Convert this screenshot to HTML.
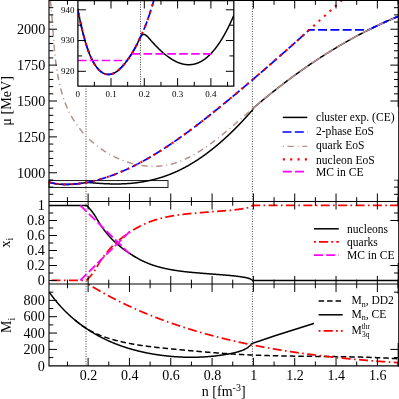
<!DOCTYPE html>
<html><head><meta charset="utf-8"><title>EoS</title>
<style>
html,body{margin:0;padding:0;background:#fff;}
body{width:399px;height:399px;overflow:hidden;font-family:"Liberation Serif",serif;}
svg{display:block;will-change:transform;}
svg text{font-family:"Liberation Serif",serif;fill:#000;}
</style></head><body>
<svg width="399" height="399" viewBox="0 0 399 399">
<defs>
<clipPath id="cT"><rect x="49.0" y="0" width="349.3" height="201.5"/></clipPath>
<clipPath id="cM"><rect x="49.0" y="201.5" width="349.3" height="82.44999999999999"/></clipPath>
<clipPath id="cB"><rect x="49.0" y="283.95" width="349.3" height="81.90000000000003"/></clipPath>
<clipPath id="cI"><rect x="77.9" y="0" width="155.9" height="86.1"/></clipPath>
</defs>
<rect width="399" height="399" fill="#fff"/>

<path d="M398.30,172.78h-8M398.30,136.89h-8M398.30,101.00h-8M398.30,65.11h-8M398.30,29.21h-8M398.30,194.32h-4.3M398.30,187.14h-4.3M398.30,179.96h-4.3M398.30,165.61h-4.3M398.30,158.43h-4.3M398.30,151.25h-4.3M398.30,144.07h-4.3M398.30,129.71h-4.3M398.30,122.53h-4.3M398.30,115.36h-4.3M398.30,108.18h-4.3M398.30,93.82h-4.3M398.30,86.64h-4.3M398.30,79.46h-4.3M398.30,72.28h-4.3M398.30,57.93h-4.3M398.30,50.75h-4.3M398.30,43.57h-4.3M398.30,36.39h-4.3M398.30,22.04h-4.3M398.30,14.86h-4.3M398.30,7.68h-4.3M398.30,0.50h-4.3M398.30,280.50h-8M398.30,265.50h-8M398.30,250.50h-8M398.30,235.50h-8M398.30,220.50h-8M398.30,205.50h-8M398.30,273.00h-4.3M398.30,258.00h-4.3M398.30,243.00h-4.3M398.30,228.00h-4.3M398.30,213.00h-4.3M398.30,349.40h-8M398.30,333.05h-8M398.30,316.70h-8M398.30,300.35h-8M398.30,357.57h-4.3M398.30,341.23h-4.3M398.30,324.88h-4.3M398.30,308.52h-4.3M398.30,292.18h-4.3" stroke="#000" stroke-width="1" fill="none"/>


<path d="M86.0,-1.5 V365.85 M252.4,-1.5 V365.85" stroke="#4a4a4a" stroke-width="1" stroke-dasharray="1 1.5" fill="none"/>

<rect x="49.0" y="180.6" width="119.0" height="6.8" fill="none" stroke="#000" stroke-width="0.9"/>

<g clip-path="url(#cT)" fill="none">
<path d="M49.07,182.17 L49.48,182.30 L49.89,182.43 L50.30,182.55 L50.70,182.67 L51.11,182.78 L51.52,182.89 L51.93,182.99 L52.34,183.09 L52.75,183.18 L53.15,183.27 L53.56,183.35 L53.97,183.43 L54.38,183.51 L54.79,183.58 L55.19,183.65 L55.60,183.71 L56.01,183.77 L56.42,183.83 L56.83,183.88 L57.23,183.93 L57.64,183.98 L58.05,184.02 L58.46,184.07 L58.87,184.11 L59.27,184.14 L59.68,184.18 L60.09,184.21 L60.50,184.24 L60.91,184.26 L61.31,184.29 L61.72,184.31 L62.13,184.33 L62.54,184.35 L62.95,184.37 L63.35,184.38 L63.76,184.39 L64.17,184.40 L64.58,184.41 L64.99,184.41 L65.40,184.42 L65.80,184.42 L66.21,184.42 L66.62,184.41 L67.03,184.41 L67.44,184.40 L67.84,184.40 L68.25,184.39 L68.66,184.38 L69.07,184.36 L69.48,184.35 L69.88,184.33 L70.29,184.31 L70.70,184.29 L71.11,184.27 L71.52,184.25 L71.92,184.22 L72.33,184.20 L72.74,184.17 L73.15,184.14 L73.56,184.11 L73.96,184.08 L74.37,184.05 L74.78,184.02 L75.19,183.98 L75.60,183.94 L76.00,183.91 L76.41,183.87 L76.82,183.83 L77.23,183.79 L77.64,183.75 L78.05,183.70 L78.45,183.66 L78.86,183.61 L79.27,183.57 L79.68,183.52 L80.09,183.47 L80.49,183.42 L80.90,183.37 L81.31,183.32 L81.72,183.27 L82.13,183.21 L82.53,183.16 L82.94,183.10 L83.35,183.04 L83.76,182.99 L84.17,182.92 L84.57,182.85 L84.98,182.77 L85.39,182.70 L85.80,182.65 L86.21,182.61 L86.61,182.58 L87.02,182.56 L87.43,182.55 L87.84,182.55 L88.25,182.55 L88.66,182.57 L89.06,182.58 L89.47,182.61 L89.88,182.63 L90.29,182.66 L90.70,182.70 L91.10,182.73 L91.51,182.77 L91.92,182.80 L92.33,182.84 L92.74,182.87 L93.14,182.91 L93.55,182.94 L93.96,182.97 L94.37,183.01 L94.78,183.04 L95.18,183.07 L95.59,183.10 L96.00,183.14 L96.41,183.17 L96.82,183.20 L97.22,183.23 L97.63,183.26 L98.04,183.29 L98.45,183.31 L98.86,183.34 L99.26,183.37 L99.67,183.40 L100.08,183.42 L100.49,183.45 L100.90,183.48 L101.31,183.50 L101.71,183.52 L102.12,183.55 L102.53,183.57 L102.94,183.59 L103.35,183.62 L103.75,183.64 L104.16,183.66 L104.57,183.68 L104.98,183.70 L105.39,183.72 L105.79,183.73 L106.20,183.75 L106.61,183.77 L107.02,183.79 L107.43,183.80 L107.83,183.82 L108.24,183.83 L108.65,183.84 L109.06,183.86 L109.47,183.87 L109.87,183.88 L110.28,183.89 L110.69,183.90 L111.10,183.91 L111.51,183.92 L111.91,183.93 L112.32,183.93 L112.73,183.94 L113.14,183.95 L113.55,183.95 L113.96,183.95 L114.36,183.96 L114.77,183.96 L115.18,183.96 L115.59,183.96 L116.00,183.96 L116.40,183.96 L116.81,183.96 L117.22,183.96 L117.63,183.95 L118.04,183.95 L118.44,183.94 L118.85,183.94 L119.26,183.93 L119.67,183.92 L120.08,183.91 L120.48,183.90 L120.89,183.89 L121.30,183.88 L121.71,183.87 L122.12,183.86 L122.52,183.84 L122.93,183.83 L123.34,183.81 L123.75,183.79 L124.16,183.77 L124.56,183.75 L124.97,183.73 L125.38,183.71 L125.79,183.69 L126.20,183.67 L126.61,183.64 L127.01,183.62 L127.42,183.59 L127.83,183.56 L128.24,183.53 L128.65,183.51 L129.05,183.47 L129.46,183.44 L129.87,183.41 L130.28,183.38 L130.69,183.34 L131.09,183.31 L131.50,183.27 L131.91,183.23 L132.32,183.19 L132.73,183.15 L133.13,183.11 L133.54,183.07 L133.95,183.03 L134.36,182.98 L134.77,182.94 L135.17,182.89 L135.58,182.84 L135.99,182.79 L136.40,182.74 L136.81,182.69 L137.21,182.64 L137.62,182.59 L138.03,182.53 L138.44,182.48 L138.85,182.42 L139.26,182.36 L139.66,182.30 L140.07,182.24 L140.48,182.18 L140.89,182.12 L141.30,182.05 L141.70,181.99 L142.11,181.92 L142.52,181.85 L142.93,181.79 L143.34,181.72 L143.74,181.64 L144.15,181.57 L144.56,181.50 L144.97,181.42 L145.38,181.35 L145.78,181.27 L146.19,181.19 L146.60,181.11 L147.01,181.03 L147.42,180.95 L147.82,180.87 L148.23,180.78 L148.64,180.70 L149.05,180.61 L149.46,180.52 L149.86,180.43 L150.27,180.34 L150.68,180.25 L151.09,180.15 L151.50,180.06 L151.91,179.96 L152.31,179.86 L152.72,179.76 L153.13,179.66 L153.54,179.56 L153.95,179.46 L154.35,179.36 L154.76,179.25 L155.17,179.14 L155.58,179.03 L155.99,178.92 L156.39,178.81 L156.80,178.70 L157.21,178.59 L157.62,178.47 L158.03,178.36 L158.43,178.24 L158.84,178.12 L159.25,178.00 L159.66,177.88 L160.07,177.75 L160.47,177.63 L160.88,177.50 L161.29,177.37 L161.70,177.24 L162.11,177.11 L162.51,176.98 L162.92,176.85 L163.33,176.71 L163.74,176.58 L164.15,176.44 L164.56,176.30 L164.96,176.16 L165.37,176.02 L165.78,175.87 L166.19,175.73 L166.60,175.58 L167.00,175.43 L167.41,175.28 L167.82,175.13 L168.23,174.98 L168.64,174.83 L169.04,174.67 L169.45,174.51 L169.86,174.36 L170.27,174.20 L170.68,174.03 L171.08,173.87 L171.49,173.71 L171.90,173.54 L172.31,173.37 L172.72,173.20 L173.12,173.03 L173.53,172.86 L173.94,172.68 L174.35,172.51 L174.76,172.33 L175.17,172.15 L175.57,171.97 L175.98,171.79 L176.39,171.61 L176.80,171.42 L177.21,171.24 L177.61,171.05 L178.02,170.86 L178.43,170.67 L178.84,170.47 L179.25,170.28 L179.65,170.08 L180.06,169.88 L180.47,169.68 L180.88,169.48 L181.29,169.28 L181.69,169.07 L182.10,168.87 L182.51,168.66 L182.92,168.45 L183.33,168.24 L183.73,168.03 L184.14,167.81 L184.55,167.60 L184.96,167.38 L185.37,167.16 L185.77,166.94 L186.18,166.71 L186.59,166.49 L187.00,166.26 L187.41,166.04 L187.82,165.81 L188.22,165.58 L188.63,165.34 L189.04,165.11 L189.45,164.88 L189.86,164.64 L190.26,164.40 L190.67,164.16 L191.08,163.92 L191.49,163.67 L191.90,163.43 L192.30,163.18 L192.71,162.93 L193.12,162.68 L193.53,162.43 L193.94,162.18 L194.34,161.92 L194.75,161.67 L195.16,161.41 L195.57,161.15 L195.98,160.89 L196.38,160.63 L196.79,160.36 L197.20,160.10 L197.61,159.83 L198.02,159.56 L198.42,159.29 L198.83,159.02 L199.24,158.74 L199.65,158.47 L200.06,158.19 L200.47,157.91 L200.87,157.63 L201.28,157.35 L201.69,157.07 L202.10,156.78 L202.51,156.50 L202.91,156.21 L203.32,155.92 L203.73,155.63 L204.14,155.33 L204.55,155.04 L204.95,154.75 L205.36,154.45 L205.77,154.15 L206.18,153.85 L206.59,153.55 L206.99,153.24 L207.40,152.94 L207.81,152.63 L208.22,152.32 L208.63,152.01 L209.03,151.70 L209.44,151.39 L209.85,151.07 L210.26,150.76 L210.67,150.44 L211.07,150.12 L211.48,149.80 L211.89,149.48 L212.30,149.16 L212.71,148.83 L213.12,148.50 L213.52,148.18 L213.93,147.85 L214.34,147.52 L214.75,147.18 L215.16,146.85 L215.56,146.51 L215.97,146.17 L216.38,145.84 L216.79,145.50 L217.20,145.15 L217.60,144.81 L218.01,144.47 L218.42,144.12 L218.83,143.77 L219.24,143.42 L219.64,143.07 L220.05,142.72 L220.46,142.36 L220.87,142.01 L221.28,141.65 L221.68,141.29 L222.09,140.93 L222.50,140.57 L222.91,140.21 L223.32,139.84 L223.72,139.48 L224.13,139.11 L224.54,138.74 L224.95,138.37 L225.36,138.00 L225.77,137.62 L226.17,137.25 L226.58,136.87 L226.99,136.49 L227.40,136.11 L227.81,135.73 L228.21,135.35 L228.62,134.97 L229.03,134.58 L229.44,134.20 L229.85,133.81 L230.25,133.42 L230.66,133.03 L231.07,132.63 L231.48,132.24 L231.89,131.84 L232.29,131.45 L232.70,131.05 L233.11,130.65 L233.52,130.24 L233.93,129.84 L234.33,129.44 L234.74,129.03 L235.15,128.62 L235.56,128.21 L235.97,127.80 L236.37,127.39 L236.78,126.98 L237.19,126.56 L237.60,126.15 L238.01,125.73 L238.42,125.31 L238.82,124.89 L239.23,124.47 L239.64,124.04 L240.05,123.62 L240.46,123.19 L240.86,122.77 L241.27,122.34 L241.68,121.90 L242.09,121.47 L242.50,121.04 L242.90,120.60 L243.31,120.17 L243.72,119.73 L244.13,119.29 L244.54,118.85 L244.94,118.41 L245.35,117.96 L245.76,117.52 L246.17,117.07 L246.58,116.62 L246.98,116.17 L247.39,115.72 L247.80,115.27 L248.21,114.82 L248.62,114.36 L249.02,113.91 L249.43,113.45 L249.84,112.99 L250.25,112.53 L250.66,112.07 L251.07,111.60 L251.47,111.14 L251.88,110.67 L252.29,110.20 L252.70,109.74 L253.05,108.33 L253.82,107.67 L254.60,107.01 L255.38,106.34 L256.16,105.68 L256.94,105.02 L257.72,104.37 L258.50,103.71 L259.28,103.05 L260.06,102.40 L260.84,101.74 L261.63,101.09 L262.41,100.44 L263.20,99.79 L263.99,99.14 L264.78,98.49 L265.56,97.84 L266.35,97.20 L267.14,96.55 L267.93,95.91 L268.73,95.27 L269.52,94.62 L270.31,93.98 L271.11,93.35 L271.90,92.71 L272.70,92.07 L273.50,91.44 L274.30,90.80 L275.10,90.17 L275.90,89.54 L276.70,88.91 L277.50,88.28 L278.30,87.65 L279.11,87.03 L279.91,86.40 L280.72,85.78 L281.52,85.16 L282.33,84.54 L283.14,83.92 L283.95,83.30 L284.76,82.68 L285.57,82.06 L286.38,81.45 L287.19,80.84 L288.01,80.23 L288.82,79.61 L289.64,79.01 L290.46,78.40 L291.27,77.79 L292.09,77.19 L292.91,76.58 L293.73,75.98 L294.56,75.38 L295.38,74.78 L296.20,74.18 L297.03,73.59 L297.85,72.99 L298.68,72.40 L299.51,71.81 L300.34,71.22 L301.17,70.63 L302.00,70.04 L302.83,69.45 L303.66,68.87 L304.49,68.28 L305.33,67.70 L306.16,67.12 L307.00,66.54 L307.84,65.96 L308.68,65.39 L309.52,64.81 L310.36,64.24 L311.20,63.67 L312.04,63.10 L312.89,62.53 L313.73,61.96 L314.58,61.40 L315.43,60.83 L316.27,60.27 L317.12,59.71 L317.97,59.15 L318.83,58.59 L319.68,58.04 L320.53,57.48 L321.39,56.93 L322.24,56.38 L323.10,55.83 L323.96,55.28 L324.82,54.73 L325.68,54.19 L326.54,53.64 L327.40,53.10 L328.26,52.56 L329.13,52.02 L329.99,51.49 L330.86,50.95 L331.73,50.42 L332.60,49.89 L333.47,49.36 L334.34,48.83 L335.21,48.30 L336.08,47.77 L336.96,47.25 L337.83,46.73 L338.71,46.21 L339.59,45.69 L340.47,45.17 L341.35,44.66 L342.23,44.15 L343.11,43.63 L344.00,43.12 L344.88,42.62 L345.77,42.11 L346.65,41.60 L347.54,41.10 L348.43,40.60 L349.32,40.10 L350.21,39.60 L351.11,39.11 L352.00,38.61 L352.90,38.12 L353.79,37.63 L354.69,37.14 L355.59,36.66 L356.49,36.17 L357.39,35.69 L358.30,35.21 L359.20,34.73 L360.10,34.25 L361.01,33.77 L361.92,33.30 L362.83,32.83 L363.74,32.36 L364.65,31.89 L365.56,31.42 L366.47,30.96 L367.39,30.50 L368.31,30.04 L369.22,29.58 L370.14,29.12 L371.06,28.67 L371.98,28.21 L372.91,27.76 L373.83,27.31 L374.75,26.86 L375.68,26.42 L376.61,25.98 L377.54,25.53 L378.47,25.09 L379.40,24.66 L380.33,24.22 L381.26,23.79 L382.20,23.36 L383.14,22.93 L384.07,22.50 L385.01,22.07 L385.95,21.65 L386.89,21.23 L387.84,20.81 L388.78,20.39 L389.73,19.98 L390.67,19.56 L391.62,19.15 L392.57,18.74 L393.52,18.33 L394.47,17.93 L395.43,17.53 L396.38,17.12 L397.34,16.73 L398.30,16.33" stroke="#000" stroke-width="1.5"/>
<path d="M49.07,182.17 L49.67,182.36 L50.26,182.54 L50.86,182.71 L51.46,182.87 L52.05,183.02 L52.65,183.16 L53.24,183.29 L53.84,183.41 L54.43,183.52 L55.03,183.62 L55.63,183.71 L56.22,183.80 L56.82,183.88 L57.41,183.95 L58.01,184.02 L58.61,184.08 L59.20,184.14 L59.80,184.19 L60.39,184.23 L60.99,184.27 L61.58,184.30 L62.18,184.33 L62.78,184.36 L63.37,184.38 L63.97,184.40 L64.56,184.41 L65.16,184.41 L65.75,184.42 L66.35,184.42 L66.95,184.41 L67.54,184.40 L68.14,184.39 L68.73,184.37 L69.33,184.35 L69.93,184.33 L70.52,184.30 L71.12,184.27 L71.71,184.24 L72.31,184.20 L72.90,184.16 L73.50,184.12 L74.10,184.07 L74.69,184.02 L75.29,183.97 L75.88,183.92 L76.48,183.86 L77.07,183.80 L77.67,183.74 L78.27,183.68 L78.86,183.61 L79.46,183.55 L80.05,183.48 L80.65,183.40 L81.25,183.33 L81.84,183.25 L82.44,183.17 L83.03,183.09 L83.63,183.00 L84.22,182.92 L84.82,182.83 L85.42,182.73 L86.01,182.64 L86.61,182.54 L87.20,182.44 L87.80,182.33 L88.39,182.22 L88.99,182.11 L89.59,181.99 L90.18,181.86 L90.78,181.74 L91.37,181.60 L91.97,181.47 L92.57,181.32 L93.16,181.18 L93.76,181.03 L94.35,180.88 L94.95,180.73 L95.54,180.57 L96.14,180.42 L96.74,180.26 L97.33,180.10 L97.93,179.93 L98.52,179.77 L99.12,179.60 L99.71,179.43 L100.31,179.26 L100.91,179.08 L101.50,178.91 L102.10,178.73 L102.69,178.55 L103.29,178.36 L103.88,178.18 L104.48,177.99 L105.08,177.80 L105.67,177.61 L106.27,177.41 L106.86,177.21 L107.46,177.01 L108.06,176.81 L108.65,176.61 L109.25,176.40 L109.84,176.19 L110.44,175.98 L111.03,175.77 L111.63,175.56 L112.23,175.34 L112.82,175.12 L113.42,174.90 L114.01,174.67 L114.61,174.45 L115.20,174.22 L115.80,173.99 L116.40,173.76 L116.99,173.52 L117.59,173.28 L118.18,173.04 L118.78,172.80 L119.38,172.56 L119.97,172.31 L120.57,172.06 L121.16,171.81 L121.76,171.56 L122.35,171.30 L122.95,171.05 L123.55,170.79 L124.14,170.53 L124.74,170.26 L125.33,170.00 L125.93,169.73 L126.52,169.46 L127.12,169.18 L127.72,168.91 L128.31,168.63 L128.91,168.35 L129.50,168.07 L130.10,167.79 L130.70,167.50 L131.29,167.22 L131.89,166.93 L132.48,166.64 L133.08,166.34 L133.67,166.05 L134.27,165.75 L134.87,165.45 L135.46,165.15 L136.06,164.85 L136.65,164.54 L137.25,164.23 L137.84,163.92 L138.44,163.61 L139.04,163.30 L139.63,162.98 L140.23,162.67 L140.82,162.35 L141.42,162.03 L142.02,161.70 L142.61,161.38 L143.21,161.05 L143.80,160.72 L144.40,160.39 L144.99,160.06 L145.59,159.73 L146.19,159.39 L146.78,159.06 L147.38,158.72 L147.97,158.37 L148.57,158.03 L149.16,157.69 L149.76,157.34 L150.36,156.99 L150.95,156.64 L151.55,156.29 L152.14,155.94 L152.74,155.58 L153.34,155.23 L153.93,154.87 L154.53,154.51 L155.12,154.14 L155.72,153.78 L156.31,153.42 L156.91,153.05 L157.51,152.68 L158.10,152.31 L158.70,151.94 L159.29,151.57 L159.89,151.19 L160.48,150.81 L161.08,150.44 L161.68,150.06 L162.27,149.68 L162.87,149.29 L163.46,148.91 L164.06,148.52 L164.66,148.14 L165.25,147.75 L165.85,147.36 L166.44,146.97 L167.04,146.57 L167.63,146.18 L168.23,145.78 L168.83,145.38 L169.42,144.98 L170.02,144.58 L170.61,144.18 L171.21,143.78 L171.80,143.37 L172.40,142.97 L173.00,142.56 L173.59,142.15 L174.19,141.74 L174.78,141.33 L175.38,140.92 L175.98,140.50 L176.57,140.09 L177.17,139.67 L177.76,139.25 L178.36,138.83 L178.95,138.41 L179.55,137.99 L180.15,137.57 L180.74,137.14 L181.34,136.72 L181.93,136.29 L182.53,135.86 L183.12,135.43 L183.72,135.00 L184.32,134.57 L184.91,134.14 L185.51,133.71 L186.10,133.27 L186.70,132.83 L187.30,132.40 L187.89,131.96 L188.49,131.52 L189.08,131.08 L189.68,130.64 L190.27,130.19 L190.87,129.75 L191.47,129.30 L192.06,128.86 L192.66,128.41 L193.25,127.96 L193.85,127.51 L194.44,127.06 L195.04,126.61 L195.64,126.16 L196.23,125.71 L196.83,125.25 L197.42,124.80 L198.02,124.34 L198.61,123.88 L199.21,123.42 L199.81,122.96 L200.40,122.50 L201.00,122.04 L201.59,121.58 L202.19,121.12 L202.79,120.66 L203.38,120.19 L203.98,119.73 L204.57,119.26 L205.17,118.79 L205.76,118.33 L206.36,117.86 L206.96,117.39 L207.55,116.92 L208.15,116.45 L208.74,115.97 L209.34,115.50 L209.93,115.03 L210.53,114.55 L211.13,114.08 L211.72,113.60 L212.32,113.13 L212.91,112.65 L213.51,112.17 L214.11,111.69 L214.70,111.21 L215.30,110.74 L215.89,110.25 L216.49,109.77 L217.08,109.29 L217.68,108.81 L218.28,108.33 L218.87,107.84 L219.47,107.36 L220.06,106.87 L220.66,106.39 L221.25,105.90 L221.85,105.42 L222.45,104.93 L223.04,104.44 L223.64,103.95 L224.23,103.46 L224.83,102.97 L225.43,102.49 L226.02,101.99 L226.62,101.50 L227.21,101.01 L227.81,100.52 L228.40,100.03 L229.00,99.54 L229.60,99.04 L230.19,98.55 L230.79,98.06 L231.38,97.56 L231.98,97.07 L232.57,96.57 L233.17,96.08 L233.77,95.58 L234.36,95.08 L234.96,94.59 L235.55,94.09 L236.15,93.59 L236.75,93.10 L237.34,92.60 L237.94,92.10 L238.53,91.60 L239.13,91.10 L239.72,90.60 L240.32,90.10 L240.92,89.60 L241.51,89.10 L242.11,88.60 L242.70,88.09 L243.30,87.59 L243.89,87.09 L244.49,86.59 L245.09,86.08 L245.68,85.58 L246.28,85.07 L246.87,84.57 L247.47,84.06 L248.07,83.56 L248.66,83.05 L249.26,82.55 L249.85,82.04 L250.45,81.53 L251.04,81.03 L251.64,80.52 L252.24,80.01 L252.83,79.50 L253.43,78.99 L254.02,78.49 L254.62,77.98 L255.21,77.47 L255.81,76.96 L256.41,76.45 L257.00,75.93 L257.60,75.42 L258.19,74.91 L258.79,74.40 L259.39,73.89 L259.98,73.37 L260.58,72.86 L261.17,72.35 L261.77,71.83 L262.36,71.32 L262.96,70.81 L263.56,70.29 L264.15,69.78 L264.75,69.26 L265.34,68.74 L265.94,68.23 L266.53,67.71 L267.13,67.20 L267.73,66.68 L268.32,66.16 L268.92,65.64 L269.51,65.12 L270.11,64.61 L270.71,64.09 L271.30,63.57 L271.90,63.05 L272.49,62.53 L273.09,62.01 L273.68,61.49 L274.28,60.97 L274.88,60.45 L275.47,59.93 L276.07,59.40 L276.66,58.88 L277.26,58.36 L277.85,57.84 L278.45,57.31 L279.05,56.79 L279.64,56.27 L280.24,55.74 L280.83,55.22 L281.43,54.70 L282.03,54.17 L282.62,53.65 L283.22,53.12 L283.81,52.59 L284.41,52.07 L285.00,51.54 L285.60,51.02 L286.20,50.49 L286.79,49.96 L287.39,49.43 L287.98,48.91 L288.58,48.38 L289.17,47.85 L289.77,47.32 L290.37,46.79 L290.96,46.26 L291.56,45.73 L292.15,45.20 L292.75,44.67 L293.35,44.14 L293.94,43.61 L294.54,43.08 L295.13,42.55 L295.73,42.02 L296.32,41.49 L296.92,40.96 L297.52,40.43 L298.11,39.89 L298.71,39.36 L299.30,38.83 L299.90,38.29 L300.49,37.76 L301.09,37.23 L301.69,36.69 L302.28,36.16 L302.88,35.62 L303.47,35.09 L304.07,34.55 L304.66,34.02 L305.26,33.48 L305.86,32.95 L306.45,32.41 L307.05,31.88 L307.64,31.34 L308.24,30.80 L308.4,29.9" stroke="#0000ff" stroke-width="1.7" stroke-dasharray="9 3.3"/>
<path d="M308.10,29.90 L368.00,29.90 L368.31,30.04 L369.22,29.58 L370.14,29.12 L371.06,28.67 L371.98,28.21 L372.91,27.76 L373.83,27.31 L374.75,26.86 L375.68,26.42 L376.61,25.98 L377.54,25.53 L378.47,25.09 L379.40,24.66 L380.33,24.22 L381.26,23.79 L382.20,23.36 L383.14,22.93 L384.07,22.50 L385.01,22.07 L385.95,21.65 L386.89,21.23 L387.84,20.81 L388.78,20.39 L389.73,19.98 L390.67,19.56 L391.62,19.15 L392.57,18.74 L393.52,18.33 L394.47,17.93 L395.43,17.53 L396.38,17.12 L397.34,16.73 L398.30,16.33" stroke="#0000ff" stroke-width="1.7" stroke-dasharray="9 3.3" stroke-dashoffset="2.35"/>
<path d="M50.36,0.32 L50.47,1.25 L50.58,2.19 L50.69,3.13 L50.79,4.08 L50.89,5.03 L50.99,5.99 L51.09,6.94 L51.18,7.91 L51.27,8.87 L51.37,9.84 L51.45,10.81 L51.54,11.79 L51.62,12.77 L51.71,13.75 L51.79,14.73 L51.87,15.72 L51.95,16.71 L52.02,17.71 L52.10,18.70 L52.18,19.70 L52.25,20.70 L52.32,21.71 L52.40,22.72 L52.47,23.72 L52.54,24.74 L52.61,25.75 L52.69,26.77 L52.76,27.78 L52.83,28.80 L52.90,29.83 L52.97,30.85 L53.04,31.87 L53.12,32.90 L53.19,33.93 L53.26,34.96 L53.34,35.99 L53.41,37.02 L53.49,38.06 L53.56,39.09 L53.64,40.13 L53.72,41.17 L53.80,42.21 L53.89,43.25 L53.97,44.29 L54.06,45.33 L54.14,46.37 L54.23,47.41 L54.32,48.45 L54.42,49.49 L54.51,50.54 L54.61,51.58 L54.71,52.62 L54.82,53.67 L54.92,54.71 L55.03,55.75 L55.14,56.80 L55.26,57.84 L55.38,58.88 L55.50,59.93 L55.62,60.97 L55.75,62.01 L55.88,63.05 L56.02,64.09 L56.16,65.13 L56.30,66.17 L56.45,67.20 L56.60,68.24 L56.75,69.27 L56.91,70.31 L57.08,71.34 L57.25,72.37 L57.42,73.40 L57.60,74.43 L57.78,75.46 L57.97,76.48 L58.16,77.51 L58.36,78.53 L58.56,79.55 L58.77,80.56 L58.99,81.58 L59.21,82.59 L59.43,83.60 L59.66,84.61 L59.90,85.62 L60.14,86.62 L60.39,87.62 L60.65,88.62 L60.91,89.62 L61.18,90.61 L61.46,91.60 L61.74,92.59 L62.03,93.57 L62.32,94.55 L62.63,95.53 L62.94,96.51 L63.25,97.48 L63.58,98.45 L63.91,99.41 L64.25,100.37 L64.60,101.33 L64.95,102.28 L65.32,103.23 L65.69,104.18 L66.07,105.12 L66.45,106.06 L66.85,106.99 L67.25,107.92 L67.67,108.85 L68.09,109.77 L68.52,110.68 L68.96,111.60 L69.41,112.50 L69.86,113.41 L70.33,114.30 L70.81,115.20 L71.29,116.08 L71.79,116.97 L72.29,117.85 L72.80,118.72 L73.33,119.59 L73.86,120.45 L74.41,121.31 L74.96,122.16 L75.52,123.00 L76.10,123.84 L76.68,124.68 L77.27,125.51 L77.87,126.33 L78.49,127.14 L79.11,127.96 L79.74,128.76 L80.37,129.56 L81.02,130.35 L81.68,131.14 L82.34,131.92 L83.01,132.69 L83.69,133.45 L84.38,134.21 L85.08,134.97 L85.78,135.71 L86.50,136.45 L87.22,137.18 L87.95,137.91 L88.68,138.63 L89.43,139.34 L90.18,140.04 L90.94,140.74 L91.70,141.42 L92.47,142.10 L93.25,142.78 L94.04,143.44 L94.83,144.10 L95.63,144.75 L96.44,145.39 L97.25,146.03 L98.07,146.65 L98.89,147.27 L99.72,147.88 L100.56,148.48 L101.40,149.07 L102.25,149.66 L103.10,150.23 L103.96,150.80 L104.83,151.36 L105.70,151.91 L106.57,152.45 L107.45,152.98 L108.34,153.50 L109.23,154.01 L110.12,154.52 L111.02,155.01 L111.92,155.50 L112.83,155.97 L113.74,156.44 L114.66,156.89 L115.58,157.34 L116.50,157.78 L117.43,158.21 L118.36,158.62 L119.29,159.03 L120.23,159.43 L121.17,159.81 L122.12,160.19 L123.07,160.56 L124.02,160.91 L124.97,161.26 L125.93,161.59 L126.89,161.92 L127.85,162.23 L128.82,162.53 L129.78,162.83 L130.75,163.11 L131.72,163.38 L132.70,163.64 L133.67,163.88 L134.65,164.12 L135.63,164.34 L136.61,164.56 L137.59,164.76 L138.57,164.95 L139.56,165.13 L140.55,165.29 L141.53,165.45 L142.52,165.59 L143.51,165.72 L144.50,165.84 L145.49,165.95 L146.48,166.04 L147.47,166.13 L148.46,166.20 L149.45,166.25 L150.44,166.30 L151.43,166.33 L152.42,166.35 L153.41,166.35 L154.40,166.35 L155.39,166.33 L156.38,166.30 L157.37,166.25 L158.36,166.19 L159.34,166.12 L160.33,166.04 L161.31,165.94 L162.29,165.82 L163.28,165.70 L164.26,165.56 L165.23,165.41 L166.21,165.24 L167.18,165.06 L168.16,164.86 L169.13,164.65 L170.10,164.43 L171.06,164.19 L172.03,163.94 L172.99,163.68 L173.95,163.40 L174.90,163.11 L175.86,162.80 L176.81,162.49 L177.76,162.16 L178.71,161.82 L179.65,161.46 L180.60,161.10 L181.54,160.72 L182.47,160.33 L183.41,159.93 L184.34,159.53 L185.27,159.11 L186.20,158.68 L187.12,158.24 L188.05,157.79 L188.97,157.33 L189.88,156.86 L190.80,156.38 L191.71,155.89 L192.62,155.40 L193.53,154.89 L194.43,154.38 L195.33,153.86 L196.23,153.33 L197.13,152.80 L198.02,152.25 L198.91,151.70 L199.80,151.15 L200.68,150.59 L201.56,150.02 L202.44,149.44 L203.32,148.86 L204.19,148.27 L205.06,147.68 L205.93,147.09 L206.79,146.48 L207.65,145.88 L208.51,145.27 L209.36,144.65 L210.21,144.03 L211.06,143.41 L211.91,142.79 L212.75,142.16 L213.59,141.53 L214.43,140.89 L215.26,140.25 L216.09,139.61 L216.92,138.97 L217.74,138.33 L218.56,137.68 L219.38,137.04 L220.19,136.39 L221.01,135.73 L221.82,135.08 L222.62,134.43 L223.43,133.77 L224.23,133.11 L225.03,132.45 L225.83,131.79 L226.63,131.13 L227.42,130.47 L228.21,129.80 L229.00,129.14 L229.79,128.47 L230.58,127.80 L231.36,127.13 L232.15,126.46 L232.93,125.79 L233.71,125.12 L234.49,124.45 L235.27,123.78 L236.05,123.11 L236.82,122.44 L237.60,121.76 L238.37,121.09 L239.15,120.41 L239.92,119.74 L240.69,119.07 L241.46,118.39 L242.24,117.72 L243.01,117.05 L243.78,116.37 L244.55,115.70 L245.32,115.03 L246.09,114.35 L246.86,113.68 L247.64,113.01 L248.41,112.34 L249.18,111.67 L249.95,111.00 L250.72,110.33 L251.50,109.67 L252.27,109.00 L253.05,108.33" stroke="#bc8f8f" stroke-width="1.5" stroke-dasharray="6.3 3.8 1 3.7"/>
<path d="M253.05,108.33 L253.82,107.67 L254.60,107.01 L255.38,106.34 L256.16,105.68 L256.94,105.02 L257.72,104.37 L258.50,103.71 L259.28,103.05 L260.06,102.40 L260.84,101.74 L261.63,101.09 L262.41,100.44 L263.20,99.79 L263.99,99.14 L264.78,98.49 L265.56,97.84 L266.35,97.20 L267.14,96.55 L267.93,95.91 L268.73,95.27 L269.52,94.62 L270.31,93.98 L271.11,93.35 L271.90,92.71 L272.70,92.07 L273.50,91.44 L274.30,90.80 L275.10,90.17 L275.90,89.54 L276.70,88.91 L277.50,88.28 L278.30,87.65 L279.11,87.03 L279.91,86.40 L280.72,85.78 L281.52,85.16 L282.33,84.54 L283.14,83.92 L283.95,83.30 L284.76,82.68 L285.57,82.06 L286.38,81.45 L287.19,80.84 L288.01,80.23 L288.82,79.61 L289.64,79.01 L290.46,78.40 L291.27,77.79 L292.09,77.19 L292.91,76.58 L293.73,75.98 L294.56,75.38 L295.38,74.78 L296.20,74.18 L297.03,73.59 L297.85,72.99 L298.68,72.40 L299.51,71.81 L300.34,71.22 L301.17,70.63 L302.00,70.04 L302.83,69.45 L303.66,68.87 L304.49,68.28 L305.33,67.70 L306.16,67.12 L307.00,66.54 L307.84,65.96 L308.68,65.39 L309.52,64.81 L310.36,64.24 L311.20,63.67 L312.04,63.10 L312.89,62.53 L313.73,61.96 L314.58,61.40 L315.43,60.83 L316.27,60.27 L317.12,59.71 L317.97,59.15 L318.83,58.59 L319.68,58.04 L320.53,57.48 L321.39,56.93 L322.24,56.38 L323.10,55.83 L323.96,55.28 L324.82,54.73 L325.68,54.19 L326.54,53.64 L327.40,53.10 L328.26,52.56 L329.13,52.02 L329.99,51.49 L330.86,50.95 L331.73,50.42 L332.60,49.89 L333.47,49.36 L334.34,48.83 L335.21,48.30 L336.08,47.77 L336.96,47.25 L337.83,46.73 L338.71,46.21 L339.59,45.69 L340.47,45.17 L341.35,44.66 L342.23,44.15 L343.11,43.63 L344.00,43.12 L344.88,42.62 L345.77,42.11 L346.65,41.60 L347.54,41.10 L348.43,40.60 L349.32,40.10 L350.21,39.60 L351.11,39.11 L352.00,38.61 L352.90,38.12 L353.79,37.63 L354.69,37.14 L355.59,36.66 L356.49,36.17 L357.39,35.69 L358.30,35.21 L359.20,34.73 L360.10,34.25 L361.01,33.77 L361.92,33.30 L362.83,32.83 L363.74,32.36 L364.65,31.89 L365.56,31.42 L366.47,30.96 L367.39,30.50 L368.31,30.04 L369.22,29.58 L370.14,29.12 L371.06,28.67 L371.98,28.21 L372.91,27.76 L373.83,27.31 L374.75,26.86 L375.68,26.42 L376.61,25.98 L377.54,25.53 L378.47,25.09 L379.40,24.66 L380.33,24.22 L381.26,23.79 L382.20,23.36 L383.14,22.93 L384.07,22.50 L385.01,22.07 L385.95,21.65 L386.89,21.23 L387.84,20.81 L388.78,20.39 L389.73,19.98 L390.67,19.56 L391.62,19.15 L392.57,18.74 L393.52,18.33 L394.47,17.93 L395.43,17.53 L396.38,17.12 L397.34,16.73 L398.30,16.33" stroke="#bc8f8f" stroke-width="1.45" stroke-dasharray="10.3 4.5"/>
<path d="M372.91,27.76 L373.83,27.31 L374.75,26.86 L375.68,26.42 L376.61,25.98 L377.54,25.53 L378.47,25.09 L379.40,24.66 L380.33,24.22 L381.26,23.79 L382.20,23.36 L383.14,22.93 L384.07,22.50 L385.01,22.07 L385.95,21.65 L386.89,21.23 L387.84,20.81 L388.78,20.39 L389.73,19.98 L390.67,19.56 L391.62,19.15 L392.57,18.74 L393.52,18.33 L394.47,17.93 L395.43,17.53 L396.38,17.12 L397.34,16.73 L398.30,16.33" stroke="#0000ff" stroke-width="1.7" stroke-dasharray="5 6.5"/>
<path d="M49.07,182.17 L49.67,182.36 L50.26,182.54 L50.86,182.71 L51.46,182.87 L52.05,183.02 L52.65,183.16 L53.24,183.29 L53.84,183.41 L54.43,183.52 L55.03,183.62 L55.63,183.71 L56.22,183.80 L56.82,183.88 L57.41,183.95 L58.01,184.02 L58.61,184.08 L59.20,184.14 L59.80,184.19 L60.39,184.23 L60.99,184.27 L61.58,184.30 L62.18,184.33 L62.78,184.36 L63.37,184.38 L63.97,184.40 L64.56,184.41 L65.16,184.41 L65.75,184.42 L66.35,184.42 L66.95,184.41 L67.54,184.40 L68.14,184.39 L68.73,184.37 L69.33,184.35 L69.93,184.33 L70.52,184.30 L71.12,184.27 L71.71,184.24 L72.31,184.20 L72.90,184.16 L73.50,184.12 L74.10,184.07 L74.69,184.02 L75.29,183.97 L75.88,183.92 L76.48,183.86 L77.07,183.80 L77.67,183.74 L78.27,183.68 L78.86,183.61 L79.46,183.55 L80.05,183.48 L80.65,183.40 L81.25,183.33 L81.84,183.25 L82.44,183.17 L83.03,183.09 L83.63,183.00 L84.22,182.92 L84.82,182.83 L85.42,182.73 L86.01,182.64 L86.61,182.54 L87.20,182.44 L87.80,182.33 L88.39,182.22 L88.99,182.11 L89.59,181.99 L90.18,181.86 L90.78,181.74 L91.37,181.60 L91.97,181.47 L92.57,181.32 L93.16,181.18 L93.76,181.03 L94.35,180.88 L94.95,180.73 L95.54,180.57 L96.14,180.42 L96.74,180.26 L97.33,180.10 L97.93,179.93 L98.52,179.77 L99.12,179.60 L99.71,179.43 L100.31,179.26 L100.91,179.08 L101.50,178.91 L102.10,178.73 L102.69,178.55 L103.29,178.36 L103.88,178.18 L104.48,177.99 L105.08,177.80 L105.67,177.61 L106.27,177.41 L106.86,177.21 L107.46,177.01 L108.06,176.81 L108.65,176.61 L109.25,176.40 L109.84,176.19 L110.44,175.98 L111.03,175.77 L111.63,175.56 L112.23,175.34 L112.82,175.12 L113.42,174.90 L114.01,174.67 L114.61,174.45 L115.20,174.22 L115.80,173.99 L116.40,173.76 L116.99,173.52 L117.59,173.28 L118.18,173.04 L118.78,172.80 L119.38,172.56 L119.97,172.31 L120.57,172.06 L121.16,171.81 L121.76,171.56 L122.35,171.30 L122.95,171.05 L123.55,170.79 L124.14,170.53 L124.74,170.26 L125.33,170.00 L125.93,169.73 L126.52,169.46 L127.12,169.18 L127.72,168.91 L128.31,168.63 L128.91,168.35 L129.50,168.07 L130.10,167.79 L130.70,167.50 L131.29,167.22 L131.89,166.93 L132.48,166.64 L133.08,166.34 L133.67,166.05 L134.27,165.75 L134.87,165.45 L135.46,165.15 L136.06,164.85 L136.65,164.54 L137.25,164.23 L137.84,163.92 L138.44,163.61 L139.04,163.30 L139.63,162.98 L140.23,162.67 L140.82,162.35 L141.42,162.03 L142.02,161.70 L142.61,161.38 L143.21,161.05 L143.80,160.72 L144.40,160.39 L144.99,160.06 L145.59,159.73 L146.19,159.39 L146.78,159.06 L147.38,158.72 L147.97,158.37 L148.57,158.03 L149.16,157.69 L149.76,157.34 L150.36,156.99 L150.95,156.64 L151.55,156.29 L152.14,155.94 L152.74,155.58 L153.34,155.23 L153.93,154.87 L154.53,154.51 L155.12,154.14 L155.72,153.78 L156.31,153.42 L156.91,153.05 L157.51,152.68 L158.10,152.31 L158.70,151.94 L159.29,151.57 L159.89,151.19 L160.48,150.81 L161.08,150.44 L161.68,150.06 L162.27,149.68 L162.87,149.29 L163.46,148.91 L164.06,148.52 L164.66,148.14 L165.25,147.75 L165.85,147.36 L166.44,146.97 L167.04,146.57 L167.63,146.18 L168.23,145.78 L168.83,145.38 L169.42,144.98 L170.02,144.58 L170.61,144.18 L171.21,143.78 L171.80,143.37 L172.40,142.97 L173.00,142.56 L173.59,142.15 L174.19,141.74 L174.78,141.33 L175.38,140.92 L175.98,140.50 L176.57,140.09 L177.17,139.67 L177.76,139.25 L178.36,138.83 L178.95,138.41 L179.55,137.99 L180.15,137.57 L180.74,137.14 L181.34,136.72 L181.93,136.29 L182.53,135.86 L183.12,135.43 L183.72,135.00 L184.32,134.57 L184.91,134.14 L185.51,133.71 L186.10,133.27 L186.70,132.83 L187.30,132.40 L187.89,131.96 L188.49,131.52 L189.08,131.08 L189.68,130.64 L190.27,130.19 L190.87,129.75 L191.47,129.30 L192.06,128.86 L192.66,128.41 L193.25,127.96 L193.85,127.51 L194.44,127.06 L195.04,126.61 L195.64,126.16 L196.23,125.71 L196.83,125.25 L197.42,124.80 L198.02,124.34 L198.61,123.88 L199.21,123.42 L199.81,122.96 L200.40,122.50 L201.00,122.04 L201.59,121.58 L202.19,121.12 L202.79,120.66 L203.38,120.19 L203.98,119.73 L204.57,119.26 L205.17,118.79 L205.76,118.33 L206.36,117.86 L206.96,117.39 L207.55,116.92 L208.15,116.45 L208.74,115.97 L209.34,115.50 L209.93,115.03 L210.53,114.55 L211.13,114.08 L211.72,113.60 L212.32,113.13 L212.91,112.65 L213.51,112.17 L214.11,111.69 L214.70,111.21 L215.30,110.74 L215.89,110.25 L216.49,109.77 L217.08,109.29 L217.68,108.81 L218.28,108.33 L218.87,107.84 L219.47,107.36 L220.06,106.87 L220.66,106.39 L221.25,105.90 L221.85,105.42 L222.45,104.93 L223.04,104.44 L223.64,103.95 L224.23,103.46 L224.83,102.97 L225.43,102.49 L226.02,101.99 L226.62,101.50 L227.21,101.01 L227.81,100.52 L228.40,100.03 L229.00,99.54 L229.60,99.04 L230.19,98.55 L230.79,98.06 L231.38,97.56 L231.98,97.07 L232.57,96.57 L233.17,96.08 L233.77,95.58 L234.36,95.08 L234.96,94.59 L235.55,94.09 L236.15,93.59 L236.75,93.10 L237.34,92.60 L237.94,92.10 L238.53,91.60 L239.13,91.10 L239.72,90.60 L240.32,90.10 L240.92,89.60 L241.51,89.10 L242.11,88.60 L242.70,88.09 L243.30,87.59 L243.89,87.09 L244.49,86.59 L245.09,86.08 L245.68,85.58 L246.28,85.07 L246.87,84.57 L247.47,84.06 L248.07,83.56 L248.66,83.05 L249.26,82.55 L249.85,82.04 L250.45,81.53 L251.04,81.03 L251.64,80.52 L252.24,80.01 L252.83,79.50 L253.43,78.99 L254.02,78.49 L254.62,77.98 L255.21,77.47 L255.81,76.96 L256.41,76.45 L257.00,75.93 L257.60,75.42 L258.19,74.91 L258.79,74.40 L259.39,73.89 L259.98,73.37 L260.58,72.86 L261.17,72.35 L261.77,71.83 L262.36,71.32 L262.96,70.81 L263.56,70.29 L264.15,69.78 L264.75,69.26 L265.34,68.74 L265.94,68.23 L266.53,67.71 L267.13,67.20 L267.73,66.68 L268.32,66.16 L268.92,65.64 L269.51,65.12 L270.11,64.61 L270.71,64.09 L271.30,63.57 L271.90,63.05 L272.49,62.53 L273.09,62.01 L273.68,61.49 L274.28,60.97 L274.88,60.45 L275.47,59.93 L276.07,59.40 L276.66,58.88 L277.26,58.36 L277.85,57.84 L278.45,57.31 L279.05,56.79 L279.64,56.27 L280.24,55.74 L280.83,55.22 L281.43,54.70 L282.03,54.17 L282.62,53.65 L283.22,53.12 L283.81,52.59 L284.41,52.07 L285.00,51.54 L285.60,51.02 L286.20,50.49 L286.79,49.96 L287.39,49.43 L287.98,48.91 L288.58,48.38 L289.17,47.85 L289.77,47.32 L290.37,46.79 L290.96,46.26 L291.56,45.73 L292.15,45.20 L292.75,44.67 L293.35,44.14 L293.94,43.61 L294.54,43.08 L295.13,42.55 L295.73,42.02 L296.32,41.49 L296.92,40.96 L297.52,40.43 L298.11,39.89 L298.71,39.36 L299.30,38.83 L299.90,38.29 L300.49,37.76 L301.09,37.23 L301.69,36.69 L302.28,36.16 L302.88,35.62 L303.47,35.09 L304.07,34.55 L304.66,34.02 L305.26,33.48 L305.86,32.95 L306.45,32.41 L307.05,31.88 L307.64,31.34 L308.24,30.80 L308.84,30.27 L309.43,29.73 L310.03,29.19 L310.62,28.65 L311.22,28.12 L311.81,27.58 L312.41,27.04 L313.01,26.50 L313.60,25.96 L314.20,25.42 L314.79,24.88 L315.39,24.34 L315.98,23.80 L316.58,23.26 L317.18,22.72 L317.77,22.18 L318.37,21.64 L318.96,21.10 L319.56,20.56 L320.16,20.02 L320.75,19.48 L321.35,18.94 L321.94,18.39 L322.54,17.85 L323.13,17.31 L323.73,16.77 L324.33,16.22 L324.92,15.68 L325.52,15.14 L326.11,14.59 L326.71,14.05 L327.30,13.51 L327.90,12.96 L328.50,12.42 L329.09,11.87 L329.69,11.33 L330.28,10.79 L330.88,10.24 L331.48,9.70 L332.07,9.15 L332.67,8.60 L333.26,8.06 L333.86,7.51 L334.45,6.97 L335.05,6.42 L335.65,5.87 L336.24,5.33 L336.84,4.78 L337.43,4.23 L338.03,3.69 L338.62,3.14 L339.22,2.59 L339.82,2.04 L340.41,1.50 L341.01,0.95 L341.60,0.40 L342.20,-0.15 L342.80,-0.70 L343.39,-1.25 L343.99,-1.79 L344.58,-2.34 L345.18,-2.89 L345.77,-3.44 L346.37,-3.99" stroke="#ff0000" stroke-width="2.1" stroke-dasharray="2.1 5.25"/>
</g>

<g clip-path="url(#cM)" fill="none">
<path d="M49.00,205.40 L86.60,205.40 L86.60,205.40 L87.02,205.82 L87.43,206.24 L87.85,206.68 L88.27,207.13 L88.68,207.58 L89.10,208.05 L89.51,208.53 L89.93,209.01 L90.35,209.51 L90.76,210.01 L91.18,210.52 L91.60,211.04 L92.01,211.57 L92.43,212.11 L92.84,212.66 L93.26,213.21 L93.68,213.78 L94.09,214.37 L94.51,214.99 L94.93,215.63 L95.34,216.29 L95.76,216.97 L96.17,217.66 L96.59,218.36 L97.01,219.07 L97.42,219.78 L97.84,220.50 L98.26,221.21 L98.67,221.92 L99.09,222.63 L99.51,223.32 L99.92,224.01 L100.34,224.67 L100.75,225.32 L101.17,225.95 L101.59,226.56 L102.00,227.14 L102.42,227.71 L102.84,228.27 L103.25,228.83 L103.67,229.39 L104.08,229.93 L104.50,230.47 L104.92,231.01 L105.33,231.54 L105.75,232.06 L106.17,232.58 L106.58,233.09 L107.00,233.60 L107.41,234.10 L107.83,234.60 L108.25,235.08 L108.66,235.57 L109.08,236.04 L109.50,236.51 L109.91,236.97 L110.33,237.43 L110.74,237.88 L111.16,238.32 L111.58,238.76 L111.99,239.19 L112.41,239.61 L112.83,240.03 L113.24,240.44 L113.66,240.84 L114.08,241.24 L114.49,241.63 L114.91,242.02 L115.32,242.40 L115.74,242.78 L116.16,243.15 L116.57,243.52 L116.99,243.89 L117.41,244.25 L117.82,244.60 L118.24,244.95 L118.65,245.30 L119.07,245.65 L119.49,245.99 L119.90,246.33 L120.32,246.66 L120.74,246.99 L121.15,247.32 L121.57,247.65 L121.98,247.97 L122.40,248.29 L122.82,248.61 L123.23,248.93 L123.65,249.24 L124.07,249.55 L124.48,249.86 L124.90,250.16 L125.32,250.47 L125.73,250.77 L126.15,251.06 L126.56,251.36 L126.98,251.65 L127.40,251.94 L127.81,252.23 L128.23,252.51 L128.65,252.79 L129.06,253.07 L129.48,253.35 L129.89,253.62 L130.31,253.90 L130.73,254.17 L131.14,254.44 L131.56,254.70 L131.98,254.97 L132.39,255.23 L132.81,255.49 L133.22,255.75 L133.64,256.00 L134.06,256.26 L134.47,256.51 L134.89,256.76 L135.31,257.00 L135.72,257.25 L136.14,257.49 L136.55,257.72 L136.97,257.96 L137.39,258.19 L137.80,258.42 L138.22,258.65 L138.64,258.88 L139.05,259.10 L139.47,259.32 L139.89,259.54 L140.30,259.76 L140.72,259.97 L141.13,260.19 L141.55,260.40 L141.97,260.61 L142.38,260.81 L142.80,261.02 L143.22,261.22 L143.63,261.41 L144.05,261.60 L144.46,261.78 L144.88,261.97 L145.30,262.15 L145.71,262.32 L146.13,262.50 L146.55,262.68 L146.96,262.85 L147.38,263.02 L147.79,263.20 L148.21,263.37 L148.63,263.53 L149.04,263.70 L149.46,263.86 L149.88,264.02 L150.29,264.18 L150.71,264.34 L151.13,264.49 L151.54,264.65 L151.96,264.80 L152.37,264.94 L152.79,265.09 L153.21,265.23 L153.62,265.37 L154.04,265.50 L154.46,265.63 L154.87,265.76 L155.29,265.89 L155.70,266.01 L156.12,266.13 L156.54,266.26 L156.95,266.38 L157.37,266.50 L157.79,266.61 L158.20,266.73 L158.62,266.85 L159.03,266.96 L159.45,267.07 L159.87,267.19 L160.28,267.30 L160.70,267.41 L161.12,267.51 L161.53,267.62 L161.95,267.72 L162.36,267.83 L162.78,267.93 L163.20,268.03 L163.61,268.13 L164.03,268.23 L164.45,268.33 L164.86,268.42 L165.28,268.52 L165.70,268.61 L166.11,268.70 L166.53,268.79 L166.94,268.88 L167.36,268.97 L167.78,269.05 L168.19,269.13 L168.61,269.22 L169.03,269.30 L169.44,269.38 L169.86,269.46 L170.27,269.53 L170.69,269.61 L171.11,269.68 L171.52,269.76 L171.94,269.83 L172.36,269.90 L172.77,269.97 L173.19,270.04 L173.60,270.11 L174.02,270.18 L174.44,270.25 L174.85,270.31 L175.27,270.38 L175.69,270.44 L176.10,270.51 L176.52,270.57 L176.94,270.63 L177.35,270.69 L177.77,270.76 L178.18,270.82 L178.60,270.87 L179.02,270.93 L179.43,270.99 L179.85,271.05 L180.27,271.10 L180.68,271.16 L181.10,271.21 L181.51,271.27 L181.93,271.32 L182.35,271.37 L182.76,271.42 L183.18,271.47 L183.60,271.52 L184.01,271.57 L184.43,271.62 L184.84,271.67 L185.26,271.72 L185.68,271.76 L186.09,271.81 L186.51,271.86 L186.93,271.90 L187.34,271.94 L187.76,271.99 L188.17,272.03 L188.59,272.07 L189.01,272.11 L189.42,272.15 L189.84,272.19 L190.26,272.23 L190.67,272.27 L191.09,272.31 L191.51,272.35 L191.92,272.39 L192.34,272.42 L192.75,272.46 L193.17,272.50 L193.59,272.54 L194.00,272.57 L194.42,272.61 L194.84,272.64 L195.25,272.68 L195.67,272.71 L196.08,272.75 L196.50,272.79 L196.92,272.82 L197.33,272.86 L197.75,272.89 L198.17,272.93 L198.58,272.96 L199.00,273.00 L199.41,273.03 L199.83,273.07 L200.25,273.10 L200.66,273.14 L201.08,273.17 L201.50,273.21 L201.91,273.24 L202.33,273.28 L202.75,273.31 L203.16,273.35 L203.58,273.38 L203.99,273.42 L204.41,273.45 L204.83,273.48 L205.24,273.52 L205.66,273.55 L206.08,273.58 L206.49,273.62 L206.91,273.65 L207.32,273.68 L207.74,273.71 L208.16,273.75 L208.57,273.78 L208.99,273.81 L209.41,273.84 L209.82,273.88 L210.24,273.91 L210.65,273.94 L211.07,273.97 L211.49,274.01 L211.90,274.04 L212.32,274.07 L212.74,274.10 L213.15,274.14 L213.57,274.17 L213.98,274.20 L214.40,274.24 L214.82,274.27 L215.23,274.30 L215.65,274.34 L216.07,274.37 L216.48,274.40 L216.90,274.43 L217.32,274.46 L217.73,274.50 L218.15,274.53 L218.56,274.56 L218.98,274.59 L219.40,274.62 L219.81,274.65 L220.23,274.68 L220.65,274.71 L221.06,274.74 L221.48,274.77 L221.89,274.81 L222.31,274.84 L222.73,274.87 L223.14,274.90 L223.56,274.93 L223.98,274.96 L224.39,275.00 L224.81,275.03 L225.22,275.06 L225.64,275.10 L226.06,275.13 L226.47,275.16 L226.89,275.20 L227.31,275.23 L227.72,275.27 L228.14,275.31 L228.56,275.34 L228.97,275.38 L229.39,275.42 L229.80,275.46 L230.22,275.50 L230.64,275.54 L231.05,275.58 L231.47,275.63 L231.89,275.67 L232.30,275.71 L232.72,275.75 L233.13,275.80 L233.55,275.84 L233.97,275.89 L234.38,275.93 L234.80,275.98 L235.22,276.03 L235.63,276.08 L236.05,276.13 L236.46,276.18 L236.88,276.23 L237.30,276.28 L237.71,276.33 L238.13,276.39 L238.55,276.44 L238.96,276.50 L239.38,276.56 L239.79,276.62 L240.21,276.68 L240.63,276.74 L241.04,276.80 L241.46,276.87 L241.88,276.93 L242.29,277.00 L242.71,277.07 L243.13,277.14 L243.54,277.21 L243.96,277.28 L244.37,277.35 L244.79,277.43 L245.21,277.51 L245.62,277.59 L246.04,277.67 L246.46,277.76 L246.87,277.86 L247.29,277.96 L247.70,278.06 L248.12,278.18 L248.54,278.30 L248.95,278.42 L249.37,278.55 L249.79,278.70 L250.20,278.86 L250.62,279.06 L251.03,279.30 L251.45,279.55 L251.87,279.83 L252.28,280.11 L252.70,280.40 L398.30,280.40" stroke="#000" stroke-width="1.5"/>
<path d="M49.00,280.40 L86.60,280.40 L86.60,280.40 L87.02,279.98 L87.43,279.56 L87.85,279.12 L88.27,278.67 L88.68,278.22 L89.10,277.75 L89.51,277.27 L89.93,276.79 L90.35,276.29 L90.76,275.79 L91.18,275.28 L91.60,274.76 L92.01,274.23 L92.43,273.69 L92.84,273.14 L93.26,272.59 L93.68,272.02 L94.09,271.43 L94.51,270.81 L94.93,270.17 L95.34,269.51 L95.76,268.83 L96.17,268.14 L96.59,267.44 L97.01,266.73 L97.42,266.02 L97.84,265.30 L98.26,264.59 L98.67,263.88 L99.09,263.17 L99.51,262.48 L99.92,261.79 L100.34,261.13 L100.75,260.48 L101.17,259.85 L101.59,259.24 L102.00,258.66 L102.42,258.09 L102.84,257.53 L103.25,256.97 L103.67,256.41 L104.08,255.87 L104.50,255.33 L104.92,254.79 L105.33,254.26 L105.75,253.74 L106.17,253.22 L106.58,252.71 L107.00,252.20 L107.41,251.70 L107.83,251.20 L108.25,250.72 L108.66,250.23 L109.08,249.76 L109.50,249.29 L109.91,248.83 L110.33,248.37 L110.74,247.92 L111.16,247.48 L111.58,247.04 L111.99,246.61 L112.41,246.19 L112.83,245.77 L113.24,245.36 L113.66,244.96 L114.08,244.56 L114.49,244.17 L114.91,243.78 L115.32,243.40 L115.74,243.02 L116.16,242.65 L116.57,242.28 L116.99,241.91 L117.41,241.55 L117.82,241.20 L118.24,240.85 L118.65,240.50 L119.07,240.15 L119.49,239.81 L119.90,239.47 L120.32,239.14 L120.74,238.81 L121.15,238.48 L121.57,238.15 L121.98,237.83 L122.40,237.51 L122.82,237.19 L123.23,236.87 L123.65,236.56 L124.07,236.25 L124.48,235.94 L124.90,235.64 L125.32,235.33 L125.73,235.03 L126.15,234.74 L126.56,234.44 L126.98,234.15 L127.40,233.86 L127.81,233.57 L128.23,233.29 L128.65,233.01 L129.06,232.73 L129.48,232.45 L129.89,232.18 L130.31,231.90 L130.73,231.63 L131.14,231.36 L131.56,231.10 L131.98,230.83 L132.39,230.57 L132.81,230.31 L133.22,230.05 L133.64,229.80 L134.06,229.54 L134.47,229.29 L134.89,229.04 L135.31,228.80 L135.72,228.55 L136.14,228.31 L136.55,228.08 L136.97,227.84 L137.39,227.61 L137.80,227.38 L138.22,227.15 L138.64,226.92 L139.05,226.70 L139.47,226.48 L139.89,226.26 L140.30,226.04 L140.72,225.83 L141.13,225.61 L141.55,225.40 L141.97,225.19 L142.38,224.99 L142.80,224.78 L143.22,224.58 L143.63,224.39 L144.05,224.20 L144.46,224.02 L144.88,223.83 L145.30,223.65 L145.71,223.48 L146.13,223.30 L146.55,223.12 L146.96,222.95 L147.38,222.78 L147.79,222.60 L148.21,222.43 L148.63,222.27 L149.04,222.10 L149.46,221.94 L149.88,221.78 L150.29,221.62 L150.71,221.46 L151.13,221.31 L151.54,221.15 L151.96,221.00 L152.37,220.86 L152.79,220.71 L153.21,220.57 L153.62,220.43 L154.04,220.30 L154.46,220.17 L154.87,220.04 L155.29,219.91 L155.70,219.79 L156.12,219.67 L156.54,219.54 L156.95,219.42 L157.37,219.30 L157.79,219.19 L158.20,219.07 L158.62,218.95 L159.03,218.84 L159.45,218.73 L159.87,218.61 L160.28,218.50 L160.70,218.39 L161.12,218.29 L161.53,218.18 L161.95,218.08 L162.36,217.97 L162.78,217.87 L163.20,217.77 L163.61,217.67 L164.03,217.57 L164.45,217.47 L164.86,217.38 L165.28,217.28 L165.70,217.19 L166.11,217.10 L166.53,217.01 L166.94,216.92 L167.36,216.83 L167.78,216.75 L168.19,216.67 L168.61,216.58 L169.03,216.50 L169.44,216.42 L169.86,216.34 L170.27,216.27 L170.69,216.19 L171.11,216.12 L171.52,216.04 L171.94,215.97 L172.36,215.90 L172.77,215.83 L173.19,215.76 L173.60,215.69 L174.02,215.62 L174.44,215.55 L174.85,215.49 L175.27,215.42 L175.69,215.36 L176.10,215.29 L176.52,215.23 L176.94,215.17 L177.35,215.11 L177.77,215.04 L178.18,214.98 L178.60,214.93 L179.02,214.87 L179.43,214.81 L179.85,214.75 L180.27,214.70 L180.68,214.64 L181.10,214.59 L181.51,214.53 L181.93,214.48 L182.35,214.43 L182.76,214.38 L183.18,214.33 L183.60,214.28 L184.01,214.23 L184.43,214.18 L184.84,214.13 L185.26,214.08 L185.68,214.04 L186.09,213.99 L186.51,213.94 L186.93,213.90 L187.34,213.86 L187.76,213.81 L188.17,213.77 L188.59,213.73 L189.01,213.69 L189.42,213.65 L189.84,213.61 L190.26,213.57 L190.67,213.53 L191.09,213.49 L191.51,213.45 L191.92,213.41 L192.34,213.38 L192.75,213.34 L193.17,213.30 L193.59,213.26 L194.00,213.23 L194.42,213.19 L194.84,213.16 L195.25,213.12 L195.67,213.09 L196.08,213.05 L196.50,213.01 L196.92,212.98 L197.33,212.94 L197.75,212.91 L198.17,212.87 L198.58,212.84 L199.00,212.80 L199.41,212.77 L199.83,212.73 L200.25,212.70 L200.66,212.66 L201.08,212.63 L201.50,212.59 L201.91,212.56 L202.33,212.52 L202.75,212.49 L203.16,212.45 L203.58,212.42 L203.99,212.38 L204.41,212.35 L204.83,212.32 L205.24,212.28 L205.66,212.25 L206.08,212.22 L206.49,212.18 L206.91,212.15 L207.32,212.12 L207.74,212.09 L208.16,212.05 L208.57,212.02 L208.99,211.99 L209.41,211.96 L209.82,211.92 L210.24,211.89 L210.65,211.86 L211.07,211.83 L211.49,211.79 L211.90,211.76 L212.32,211.73 L212.74,211.70 L213.15,211.66 L213.57,211.63 L213.98,211.60 L214.40,211.56 L214.82,211.53 L215.23,211.50 L215.65,211.46 L216.07,211.43 L216.48,211.40 L216.90,211.37 L217.32,211.34 L217.73,211.30 L218.15,211.27 L218.56,211.24 L218.98,211.21 L219.40,211.18 L219.81,211.15 L220.23,211.12 L220.65,211.09 L221.06,211.06 L221.48,211.03 L221.89,210.99 L222.31,210.96 L222.73,210.93 L223.14,210.90 L223.56,210.87 L223.98,210.84 L224.39,210.80 L224.81,210.77 L225.22,210.74 L225.64,210.70 L226.06,210.67 L226.47,210.64 L226.89,210.60 L227.31,210.57 L227.72,210.53 L228.14,210.49 L228.56,210.46 L228.97,210.42 L229.39,210.38 L229.80,210.34 L230.22,210.30 L230.64,210.26 L231.05,210.22 L231.47,210.17 L231.89,210.13 L232.30,210.09 L232.72,210.05 L233.13,210.00 L233.55,209.96 L233.97,209.91 L234.38,209.87 L234.80,209.82 L235.22,209.77 L235.63,209.72 L236.05,209.67 L236.46,209.62 L236.88,209.57 L237.30,209.52 L237.71,209.47 L238.13,209.41 L238.55,209.36 L238.96,209.30 L239.38,209.24 L239.79,209.18 L240.21,209.12 L240.63,209.06 L241.04,209.00 L241.46,208.93 L241.88,208.87 L242.29,208.80 L242.71,208.73 L243.13,208.66 L243.54,208.59 L243.96,208.52 L244.37,208.45 L244.79,208.37 L245.21,208.29 L245.62,208.21 L246.04,208.13 L246.46,208.04 L246.87,207.94 L247.29,207.84 L247.70,207.74 L248.12,207.62 L248.54,207.50 L248.95,207.38 L249.37,207.25 L249.79,207.10 L250.20,206.94 L250.62,206.74 L251.03,206.50 L251.45,206.25 L251.87,205.97 L252.28,205.69 L252.70,205.40 L398.30,205.40" stroke="#ff0000" stroke-width="1.75" stroke-dasharray="9 3.4 1.6 3.4" stroke-dashoffset="-2.5"/>
<path d="M80.2,205.4 L129.5,253.6" stroke="#ff00ff" stroke-width="1.8" stroke-dasharray="9 3.2"/>
<path d="M80.2,280.4 L129.8,231.4" stroke="#ff00ff" stroke-width="1.8" stroke-dasharray="9 3.2"/>
</g>

<g clip-path="url(#cB)" fill="none">
<path d="M75.02,320.02 L75.65,320.59 L76.29,321.15 L76.93,321.71 L77.58,322.25 L78.23,322.79 L78.88,323.31 L79.54,323.83 L80.21,324.34 L80.88,324.83 L81.55,325.32 L82.23,325.81 L82.91,326.28 L83.60,326.75 L84.29,327.20 L84.98,327.65 L85.68,328.09 L86.38,328.53 L87.08,328.95 L87.79,329.37 L88.51,329.78 L89.22,330.18 L89.94,330.58 L90.67,330.96 L91.39,331.34 L92.12,331.72 L92.86,332.08 L93.59,332.44 L94.33,332.80 L95.08,333.14 L95.82,333.49 L96.57,333.82 L97.32,334.15 L98.08,334.47 L98.83,334.78 L99.59,335.09 L100.35,335.40 L101.12,335.69 L101.88,335.99 L102.65,336.27 L103.42,336.56 L104.19,336.83 L104.97,337.10 L105.74,337.37 L106.52,337.63 L107.30,337.89 L108.08,338.14 L108.87,338.38 L109.65,338.63 L110.44,338.86 L111.23,339.10 L112.02,339.33 L112.81,339.55 L113.60,339.77 L114.39,339.99 L115.19,340.21 L115.98,340.42 L116.78,340.62 L117.58,340.82 L118.37,341.02 L119.17,341.22 L119.97,341.41 L120.77,341.60 L121.58,341.79 L122.38,341.97 L123.18,342.15 L123.99,342.33 L124.79,342.50 L125.60,342.67 L126.40,342.84 L127.21,343.00 L128.02,343.16 L128.83,343.32 L129.64,343.47 L130.45,343.63 L131.26,343.78 L132.07,343.93 L132.88,344.07 L133.70,344.21 L134.51,344.35 L135.32,344.49 L136.14,344.62 L136.95,344.76 L137.77,344.89 L138.59,345.02 L139.40,345.14 L140.22,345.27 L141.04,345.39 L141.86,345.51 L142.68,345.63 L143.50,345.74 L144.32,345.86 L145.14,345.97 L145.96,346.08 L146.78,346.19 L147.60,346.30 L148.42,346.40 L149.24,346.50 L150.07,346.61 L150.89,346.71 L151.71,346.81 L152.53,346.91 L153.36,347.00 L154.18,347.10 L155.00,347.19 L155.83,347.29 L156.65,347.38 L157.48,347.47 L158.30,347.56 L159.13,347.65 L159.95,347.74 L160.77,347.83 L161.60,347.91 L162.42,348.00 L163.25,348.08 L164.07,348.17 L164.90,348.25 L165.72,348.34 L166.55,348.42 L167.37,348.50 L168.20,348.58 L169.02,348.67 L169.85,348.75 L170.67,348.83 L171.50,348.91 L172.32,348.99 L173.14,349.07 L173.97,349.15 L174.79,349.23 L175.62,349.31 L176.44,349.39 L177.26,349.47 L178.09,349.55 L178.91,349.63 L179.73,349.71 L180.56,349.79 L181.38,349.87 L182.20,349.94 L183.03,350.02 L183.85,350.10 L184.67,350.18 L185.49,350.25 L186.32,350.33 L187.14,350.41 L187.96,350.48 L188.78,350.56 L189.61,350.63 L190.43,350.71 L191.25,350.78 L192.07,350.86 L192.89,350.93 L193.72,351.00 L194.54,351.08 L195.36,351.15 L196.18,351.22 L197.00,351.29 L197.83,351.37 L198.65,351.44 L199.47,351.51 L200.29,351.58 L201.11,351.65 L201.93,351.72 L202.76,351.79 L203.58,351.86 L204.40,351.92 L205.22,351.99 L206.04,352.06 L206.86,352.13 L207.68,352.19 L208.51,352.26 L209.33,352.33 L210.15,352.39 L210.97,352.46 L211.79,352.52 L212.61,352.59 L213.43,352.65 L214.26,352.71 L215.08,352.78 L215.90,352.84 L216.72,352.90 L217.54,352.96 L218.36,353.02 L219.18,353.08 L220.00,353.14 L220.83,353.20 L221.65,353.26 L222.47,353.32 L223.29,353.38 L224.11,353.43 L224.93,353.49 L225.75,353.55 L226.58,353.60 L227.40,353.66 L228.22,353.71 L229.04,353.76 L229.86,353.82 L230.68,353.87 L231.51,353.92 L232.33,353.97 L233.15,354.02 L233.97,354.08 L234.79,354.13 L235.62,354.17 L236.44,354.22 L237.26,354.27 L238.08,354.32 L238.90,354.37 L239.73,354.41 L240.55,354.46 L241.37,354.50 L242.19,354.55 L243.02,354.59 L243.84,354.63 L244.66,354.68 L245.48,354.72 L246.31,354.76 L247.13,354.80 L247.95,354.84 L248.78,354.88 L249.60,354.92 L250.42,354.95 L251.25,354.99 L252.07,355.03 L252.89,355.06 L253.72,355.10 L254.54,355.13 L255.36,355.17 L256.19,355.20 L257.01,355.23 L257.84,355.26 L258.66,355.29 L259.49,355.32 L260.31,355.35 L261.13,355.38 L261.96,355.41 L262.78,355.44 L263.61,355.47 L264.43,355.49 L265.26,355.52 L266.08,355.54 L266.91,355.57 L267.73,355.59 L268.56,355.62 L269.38,355.64 L270.21,355.67 L271.03,355.69 L271.86,355.71 L272.69,355.73 L273.51,355.75 L274.34,355.77 L275.16,355.79 L275.99,355.81 L276.81,355.83 L277.64,355.85 L278.47,355.87 L279.29,355.89 L280.12,355.90 L280.95,355.92 L281.77,355.94 L282.60,355.95 L283.42,355.97 L284.25,355.99 L285.08,356.00 L285.90,356.02 L286.73,356.03 L287.56,356.04 L288.38,356.06 L289.21,356.07 L290.04,356.09 L290.86,356.10 L291.69,356.11 L292.52,356.12 L293.34,356.14 L294.17,356.15 L295.00,356.16 L295.82,356.17 L296.65,356.18 L297.48,356.19 L298.31,356.21 L299.13,356.22 L299.96,356.23 L300.79,356.24 L301.61,356.25 L302.44,356.26 L303.27,356.27 L304.10,356.28 L304.92,356.29 L305.75,356.30 L306.58,356.31 L307.40,356.31 L308.23,356.32 L309.06,356.33 L309.89,356.34 L310.71,356.35 L311.54,356.36 L312.37,356.37 L313.20,356.38 L314.02,356.39 L314.85,356.39 L315.68,356.40 L316.51,356.41 L317.33,356.42 L318.16,356.43 L318.99,356.44 L319.81,356.45 L320.64,356.46 L321.47,356.46 L322.30,356.47 L323.12,356.48 L323.95,356.49 L324.78,356.50 L325.61,356.51 L326.43,356.52 L327.26,356.53 L328.09,356.54 L328.91,356.55 L329.74,356.56 L330.57,356.57 L331.40,356.58 L332.22,356.59 L333.05,356.60 L333.88,356.61 L334.70,356.62 L335.53,356.63 L336.36,356.64 L337.19,356.65 L338.01,356.66 L338.84,356.68 L339.67,356.69 L340.49,356.70 L341.32,356.71 L342.15,356.73 L342.97,356.74 L343.80,356.75 L344.63,356.77 L345.45,356.78 L346.28,356.80 L347.11,356.81 L347.93,356.82 L348.76,356.84 L349.58,356.86 L350.41,356.87 L351.24,356.89 L352.06,356.91 L352.89,356.92 L353.71,356.94 L354.54,356.96 L355.37,356.98 L356.19,357.00 L357.02,357.02 L357.84,357.04 L358.67,357.06 L359.49,357.08 L360.32,357.10 L361.15,357.12 L361.97,357.14 L362.80,357.16 L363.62,357.19 L364.45,357.21 L365.27,357.24 L366.10,357.26 L366.92,357.29 L367.75,357.31 L368.57,357.34 L369.40,357.37 L370.22,357.39 L371.04,357.42 L371.87,357.45 L372.69,357.48 L373.52,357.51 L374.34,357.54 L375.17,357.57 L375.99,357.60 L376.81,357.64 L377.64,357.67 L378.46,357.70 L379.28,357.74 L380.11,357.77 L380.93,357.81 L381.75,357.85 L382.58,357.88 L383.40,357.92 L384.22,357.96 L385.05,358.00 L385.87,358.04 L386.69,358.08 L387.51,358.12 L388.34,358.17 L389.16,358.21 L389.98,358.25 L390.80,358.30 L391.62,358.34 L392.45,358.39 L393.27,358.44 L394.09,358.49 L394.91,358.54 L395.73,358.59 L396.55,358.64 L397.37,358.69 L398.19,358.74" stroke="#000" stroke-width="1.5" stroke-dasharray="5.5 3"/>
<path d="M49.24,292.03 L49.56,292.50 L49.88,292.96 L50.21,293.43 L50.54,293.89 L50.87,294.36 L51.20,294.82 L51.54,295.28 L51.87,295.74 L52.21,296.19 L52.55,296.65 L52.89,297.10 L53.24,297.56 L53.58,298.01 L53.93,298.46 L54.28,298.90 L54.63,299.35 L54.99,299.79 L55.34,300.24 L55.70,300.68 L56.06,301.12 L56.42,301.55 L56.78,301.99 L57.15,302.43 L57.51,302.86 L57.88,303.29 L58.25,303.72 L58.62,304.15 L59.00,304.58 L59.37,305.00 L59.75,305.43 L60.13,305.85 L60.51,306.27 L60.89,306.69 L61.28,307.10 L61.66,307.52 L62.05,307.93 L62.44,308.35 L62.83,308.76 L63.22,309.16 L63.62,309.57 L64.01,309.98 L64.41,310.38 L64.81,310.78 L65.21,311.19 L65.61,311.58 L66.02,311.98 L66.42,312.38 L66.83,312.77 L67.24,313.16 L67.65,313.55 L68.06,313.94 L68.47,314.33 L68.89,314.72 L69.30,315.10 L69.72,315.48 L70.14,315.86 L70.56,316.24 L70.99,316.62 L71.41,317.00 L71.84,317.37 L72.26,317.74 L72.69,318.11 L73.12,318.48 L73.56,318.85 L73.99,319.21 L74.42,319.58 L74.86,319.94 L75.30,320.30 L75.74,320.66 L76.18,321.02 L76.62,321.37 L77.06,321.72 L77.51,322.07 L77.95,322.42 L78.40,322.77 L78.85,323.12 L79.30,323.46 L79.75,323.81 L80.20,324.15 L80.66,324.49 L81.11,324.82 L81.57,325.16 L82.03,325.49 L82.48,325.83 L82.95,326.16 L83.41,326.48 L83.87,326.81 L84.33,327.14 L84.80,327.46 L85.27,327.78 L85.74,328.10 L86.20,328.42 L86.68,328.73 L87.15,329.05 L87.62,329.36 L88.09,329.67 L88.57,329.98 L89.05,330.29 L89.52,330.59 L90.00,330.90 L90.48,331.20 L90.96,331.50 L91.45,331.80 L91.93,332.09 L92.41,332.39 L92.90,332.68 L93.39,332.97 L93.87,333.26 L94.36,333.54 L94.85,333.83 L95.34,334.11 L95.84,334.39 L96.33,334.67 L96.82,334.95 L97.32,335.23 L97.82,335.50 L98.31,335.77 L98.81,336.04 L99.31,336.31 L99.81,336.58 L100.31,336.84 L100.82,337.10 L101.32,337.36 L101.82,337.62 L102.33,337.88 L102.83,338.13 L103.34,338.39 L103.85,338.64 L104.36,338.89 L104.87,339.14 L105.38,339.38 L105.89,339.62 L106.40,339.87 L106.92,340.11 L107.43,340.34 L107.95,340.58 L108.46,340.81 L108.98,341.04 L109.50,341.28 L110.01,341.50 L110.53,341.73 L111.05,341.95 L111.57,342.18 L112.10,342.40 L112.62,342.62 L113.14,342.83 L113.67,343.05 L114.19,343.26 L114.72,343.47 L115.24,343.68 L115.77,343.89 L116.30,344.10 L116.83,344.30 L117.36,344.51 L117.89,344.71 L118.42,344.91 L118.95,345.10 L119.48,345.30 L120.01,345.49 L120.55,345.68 L121.08,345.87 L121.62,346.06 L122.15,346.25 L122.69,346.43 L123.23,346.62 L123.76,346.80 L124.30,346.98 L124.84,347.15 L125.38,347.33 L125.92,347.51 L126.46,347.68 L127.00,347.85 L127.54,348.02 L128.08,348.19 L128.63,348.35 L129.17,348.52 L129.71,348.68 L130.26,348.84 L130.80,349.00 L131.35,349.16 L131.90,349.31 L132.44,349.47 L132.99,349.62 L133.54,349.77 L134.09,349.92 L134.63,350.06 L135.18,350.21 L135.73,350.35 L136.28,350.50 L136.83,350.64 L137.38,350.78 L137.94,350.91 L138.49,351.05 L139.04,351.19 L139.59,351.32 L140.15,351.45 L140.70,351.58 L141.25,351.71 L141.81,351.83 L142.36,351.96 L142.92,352.08 L143.47,352.20 L144.03,352.32 L144.59,352.44 L145.14,352.56 L145.70,352.68 L146.26,352.79 L146.81,352.90 L147.37,353.01 L147.93,353.12 L148.49,353.23 L149.05,353.34 L149.61,353.44 L150.16,353.54 L150.72,353.65 L151.28,353.75 L151.84,353.85 L152.40,353.94 L152.96,354.04 L153.53,354.13 L154.09,354.23 L154.65,354.32 L155.21,354.41 L155.77,354.50 L156.33,354.58 L156.89,354.67 L157.46,354.75 L158.02,354.84 L158.58,354.92 L159.14,355.00 L159.71,355.08 L160.27,355.15 L160.83,355.23 L161.40,355.30 L161.96,355.38 L162.52,355.45 L163.09,355.52 L163.65,355.59 L164.21,355.65 L164.78,355.72 L165.34,355.78 L165.91,355.85 L166.47,355.91 L167.03,355.97 L167.60,356.03 L168.16,356.09 L168.73,356.14 L169.29,356.20 L169.86,356.25 L170.42,356.30 L170.98,356.36 L171.55,356.41 L172.11,356.45 L172.68,356.50 L173.24,356.55 L173.81,356.59 L174.37,356.63 L174.93,356.68 L175.50,356.72 L176.06,356.76 L176.63,356.79 L177.19,356.83 L177.76,356.86 L178.32,356.90 L178.88,356.93 L179.45,356.96 L180.01,356.99 L180.58,357.02 L181.14,357.04 L181.71,357.07 L182.27,357.09 L182.83,357.12 L183.40,357.14 L183.96,357.16 L184.53,357.17 L185.09,357.19 L185.66,357.21 L186.22,357.22 L186.78,357.23 L187.35,357.24 L187.91,357.25 L188.48,357.26 L189.04,357.27 L189.61,357.27 L190.17,357.28 L190.74,357.28 L191.30,357.28 L191.86,357.28 L192.43,357.28 L192.99,357.28 L193.56,357.27 L194.12,357.26 L194.69,357.26 L195.25,357.25 L195.81,357.24 L196.38,357.22 L196.94,357.21 L197.51,357.19 L198.07,357.18 L198.64,357.16 L199.20,357.14 L199.76,357.12 L200.33,357.09 L200.89,357.07 L201.46,357.04 L202.02,357.02 L202.59,356.99 L203.15,356.96 L203.71,356.93 L204.28,356.89 L204.84,356.86 L205.41,356.82 L205.97,356.78 L206.53,356.74 L207.10,356.70 L207.66,356.66 L208.23,356.61 L208.79,356.57 L209.36,356.52 L209.92,356.47 L210.48,356.42 L211.05,356.37 L211.61,356.31 L212.18,356.26 L212.74,356.20 L213.30,356.14 L213.87,356.08 L214.43,356.02 L215.00,355.96 L215.56,355.89 L216.12,355.82 L216.69,355.76 L217.25,355.69 L217.82,355.61 L218.38,355.54 L218.94,355.47 L219.51,355.39 L220.07,355.31 L220.64,355.23 L221.20,355.15 L221.76,355.07 L222.33,354.98 L222.89,354.89 L223.46,354.81 L224.02,354.72 L224.58,354.62 L225.15,354.53 L225.71,354.44 L226.27,354.34 L226.84,354.24 L227.40,354.14 L227.97,354.04 L228.53,353.94 L229.09,353.83 L229.66,353.73 L230.22,353.62 L230.78,353.51 L231.35,353.40 L231.91,353.28 L232.47,353.17 L233.04,353.05 L233.60,352.93 L234.16,352.80 L234.72,352.68 L235.28,352.55 L235.84,352.41 L236.39,352.27 L236.94,352.13 L237.50,351.98 L238.04,351.83 L238.59,351.67 L239.13,351.50 L239.67,351.33 L240.21,351.15 L240.74,350.97 L241.27,350.78 L241.80,350.58 L242.32,350.37 L242.84,350.16 L243.35,349.94 L243.85,349.71 L244.36,349.47 L244.85,349.22 L245.34,348.96 L245.83,348.69 L246.31,348.41 L246.78,348.12 L247.25,347.82 L247.71,347.51 L248.16,347.19 L248.61,346.85 L249.05,346.51 L249.47,346.14 L249.89,345.77 L250.29,345.37 L250.68,344.96 L251.06,344.53 L251.42,344.08 L251.76,343.61 L262.50,340.00 L274.90,335.80 L314.50,323.20" stroke="#000" stroke-width="1.5"/>
<path d="M87.67,283.73 L88.03,283.95 L88.38,284.17 L88.74,284.39 L89.10,284.61 L89.45,284.83 L89.81,285.05 L90.16,285.27 L90.52,285.49 L90.88,285.71 L91.24,285.93 L91.59,286.15 L91.95,286.36 L92.31,286.58 L92.67,286.80 L93.02,287.01 L93.38,287.23 L93.74,287.44 L94.10,287.66 L94.46,287.87 L94.82,288.09 L95.18,288.30 L95.54,288.51 L95.90,288.72 L96.26,288.94 L96.62,289.15 L96.98,289.36 L97.34,289.57 L97.70,289.78 L98.06,289.99 L98.42,290.20 L98.79,290.41 L99.15,290.62 L99.51,290.83 L99.87,291.03 L100.23,291.24 L100.60,291.45 L100.96,291.65 L101.32,291.86 L101.69,292.06 L102.05,292.27 L102.41,292.47 L102.78,292.68 L103.14,292.88 L103.51,293.09 L103.87,293.29 L104.24,293.49 L104.60,293.69 L104.97,293.89 L105.33,294.10 L105.70,294.30 L106.06,294.50 L106.43,294.70 L106.80,294.90 L107.16,295.10 L107.53,295.29 L107.89,295.49 L108.26,295.69 L108.63,295.89 L109.00,296.09 L109.36,296.28 L109.73,296.48 L110.10,296.67 L110.47,296.87 L110.84,297.06 L111.20,297.26 L111.57,297.45 L111.94,297.65 L112.31,297.84 L112.68,298.03 L113.05,298.23 L113.42,298.42 L113.79,298.61 L114.16,298.80 L114.53,298.99 L114.90,299.18 L115.27,299.37 L115.64,299.56 L116.01,299.75 L116.38,299.94 L116.76,300.13 L117.13,300.32 L117.50,300.50 L117.87,300.69 L118.24,300.88 L118.61,301.06 L118.99,301.25 L119.36,301.43 L119.73,301.62 L120.11,301.80 L120.48,301.99 L120.85,302.17 L121.23,302.36 L121.60,302.54 L121.97,302.72 L122.35,302.90 L122.72,303.09 L123.10,303.27 L123.47,303.45 L123.85,303.63 L124.22,303.81 L124.60,303.99 L124.97,304.17 L125.35,304.35 L125.72,304.53 L126.10,304.71 L126.47,304.89 L126.85,305.06 L127.23,305.24 L127.60,305.42 L127.98,305.59 L128.36,305.77 L128.73,305.95 L129.11,306.12 L129.49,306.30 L129.87,306.47 L130.24,306.64 L130.62,306.82 L131.00,306.99 L131.38,307.17 L131.76,307.34 L132.14,307.51 L132.51,307.68 L132.89,307.85 L133.27,308.02 L133.65,308.20 L134.03,308.37 L134.41,308.54 L134.79,308.71 L135.17,308.88 L135.55,309.04 L135.93,309.21 L136.31,309.38 L136.69,309.55 L137.07,309.72 L137.45,309.88 L137.83,310.05 L138.21,310.22 L138.60,310.38 L138.98,310.55 L139.36,310.71 L139.74,310.88 L140.12,311.04 L140.51,311.21 L140.89,311.37 L141.27,311.53 L141.65,311.70 L142.04,311.86 L142.42,312.02 L142.80,312.18 L143.18,312.35 L143.57,312.51 L143.95,312.67 L144.34,312.83 L144.72,312.99 L145.10,313.15 L145.49,313.31 L145.87,313.47 L146.26,313.62 L146.64,313.78 L147.02,313.94 L147.41,314.10 L147.79,314.26 L148.18,314.41 L148.57,314.57 L148.95,314.73 L149.34,314.88 L149.72,315.04 L150.11,315.19 L150.49,315.35 L150.88,315.50 L151.27,315.66 L151.65,315.81 L152.04,315.96 L152.43,316.12 L152.81,316.27 L153.20,316.42 L153.59,316.57 L153.97,316.73 L154.36,316.88 L154.75,317.03 L155.14,317.18 L155.52,317.33 L155.91,317.48 L156.30,317.63 L156.69,317.78 L157.08,317.93 L157.47,318.08 L157.85,318.22 L158.24,318.37 L158.63,318.52 L159.02,318.67 L159.41,318.81 L159.80,318.96 L160.19,319.11 L160.58,319.25 L160.97,319.40 L161.36,319.54 L161.75,319.69 L162.14,319.83 L162.53,319.98 L162.92,320.12 L163.31,320.27 L163.70,320.41 L164.09,320.55 L164.48,320.69 L164.87,320.84 L165.26,320.98 L165.66,321.12 L166.05,321.26 L166.44,321.40 L166.83,321.54 L167.22,321.68 L167.61,321.82 L168.01,321.96 L168.40,322.10 L168.79,322.24 L169.18,322.38 L169.57,322.52 L169.97,322.66 L170.36,322.80 L170.75,322.93 L171.15,323.07 L171.54,323.21 L171.93,323.34 L172.33,323.48 L172.72,323.62 L173.11,323.75 L173.51,323.89 L173.90,324.02 L174.29,324.16 L174.69,324.29 L175.08,324.42 L175.48,324.56 L175.87,324.69 L176.26,324.83 L176.66,324.96 L177.05,325.09 L177.45,325.22 L177.84,325.35 L178.24,325.49 L178.63,325.62 L179.03,325.75 L179.42,325.88 L179.82,326.01 L180.22,326.14 L180.61,326.27 L181.01,326.40 L181.40,326.53 L181.80,326.66 L182.19,326.79 L182.59,326.91 L182.99,327.04 L183.38,327.17 L183.78,327.30 L184.18,327.42 L184.57,327.55 L184.97,327.68 L185.37,327.80 L185.76,327.93 L186.16,328.06 L186.56,328.18 L186.96,328.31 L187.35,328.43 L187.75,328.55 L188.15,328.68 L188.55,328.80 L188.94,328.93 L189.34,329.05 L189.74,329.17 L190.14,329.30 L190.54,329.42 L190.93,329.54 L191.33,329.66 L191.73,329.78 L192.13,329.90 L192.53,330.03 L192.93,330.15 L193.33,330.27 L193.73,330.39 L194.12,330.51 L194.52,330.63 L194.92,330.74 L195.32,330.86 L195.72,330.98 L196.12,331.10 L196.52,331.22 L196.92,331.34 L197.32,331.45 L197.72,331.57 L198.12,331.69 L198.52,331.80 L198.92,331.92 L199.32,332.04 L199.72,332.15 L200.12,332.27 L200.52,332.38 L200.92,332.50 L201.32,332.61 L201.73,332.73 L202.13,332.84 L202.53,332.96 L202.93,333.07 L203.33,333.18 L203.73,333.30 L204.13,333.41 L204.53,333.52 L204.94,333.63 L205.34,333.74 L205.74,333.86 L206.14,333.97 L206.54,334.08 L206.95,334.19 L207.35,334.30 L207.75,334.41 L208.15,334.52 L208.55,334.63 L208.96,334.74 L209.36,334.85 L209.76,334.96 L210.17,335.07 L210.57,335.17 L210.97,335.28 L211.37,335.39 L211.78,335.50 L212.18,335.60 L212.58,335.71 L212.99,335.82 L213.39,335.92 L213.79,336.03 L214.20,336.14 L214.60,336.24 L215.00,336.35 L215.41,336.45 L215.81,336.56 L216.22,336.66 L216.62,336.77 L217.02,336.87 L217.43,336.97 L217.83,337.08 L218.24,337.18 L218.64,337.28 L219.05,337.39 L219.45,337.49 L219.86,337.59 L220.26,337.69 L220.67,337.79 L221.07,337.90 L221.48,338.00 L221.88,338.10 L222.29,338.20 L222.69,338.30 L223.10,338.40 L223.50,338.50 L223.91,338.60 L224.31,338.70 L224.72,338.80 L225.12,338.90 L225.53,338.99 L225.94,339.09 L226.34,339.19 L226.75,339.29 L227.15,339.39 L227.56,339.48 L227.97,339.58 L228.37,339.68 L228.78,339.77 L229.19,339.87 L229.59,339.97 L230.00,340.06 L230.40,340.16 L230.81,340.25 L231.22,340.35 L231.63,340.44 L232.03,340.54 L232.44,340.63 L232.85,340.72 L233.25,340.82 L233.66,340.91 L234.07,341.01 L234.48,341.10 L234.88,341.19 L235.29,341.28 L235.70,341.38 L236.11,341.47 L236.51,341.56 L236.92,341.65 L237.33,341.74 L237.74,341.83 L238.14,341.92 L238.55,342.01 L238.96,342.11 L239.37,342.20 L239.78,342.28 L240.18,342.37 L240.59,342.46 L241.00,342.55 L241.41,342.64 L241.82,342.73 L242.23,342.82 L242.64,342.91 L243.04,342.99 L243.45,343.08 L243.86,343.17 L244.27,343.26 L244.68,343.34 L245.09,343.43 L245.50,343.52 L245.91,343.60 L246.32,343.69 L246.72,343.78 L247.13,343.86 L247.54,343.95 L247.95,344.03 L248.36,344.12 L248.77,344.20 L249.18,344.28 L249.59,344.37 L250.00,344.45 L250.41,344.54 L250.82,344.62 L251.23,344.70 L251.64,344.79 L252.05,344.87 L252.46,344.95 L252.87,345.03 L253.28,345.12 L253.69,345.20 L254.10,345.28 L254.51,345.36 L254.92,345.44 L255.33,345.52 L255.74,345.60 L256.15,345.68 L256.56,345.76 L256.97,345.84 L257.38,345.92 L257.79,346.00 L258.21,346.08 L258.62,346.16 L259.03,346.24 L259.44,346.32 L259.85,346.40 L260.26,346.48 L260.67,346.55 L261.08,346.63 L261.49,346.71 L261.90,346.79 L262.32,346.86 L262.73,346.94 L263.14,347.02 L263.55,347.09 L263.96,347.17 L264.37,347.25 L264.78,347.32 L265.20,347.40 L265.61,347.47 L266.02,347.55 L266.43,347.62 L266.84,347.70 L267.25,347.77 L267.67,347.85 L268.08,347.92 L268.49,347.99 L268.90,348.07 L269.31,348.14 L269.73,348.21 L270.14,348.29 L270.55,348.36 L270.96,348.43 L271.37,348.50 L271.79,348.58 L272.20,348.65 L272.61,348.72 L273.02,348.79 L273.44,348.86 L273.85,348.93 L274.26,349.00 L274.67,349.08 L275.09,349.15 L275.50,349.22 L275.91,349.29 L276.32,349.36 L276.74,349.43 L277.15,349.50 L277.56,349.56 L277.97,349.63 L278.39,349.70 L278.80,349.77 L279.21,349.84 L279.63,349.91 L280.04,349.98 L280.45,350.04 L280.86,350.11 L281.28,350.18 L281.69,350.25 L282.10,350.31 L282.52,350.38 L282.93,350.45 L283.34,350.51 L283.76,350.58 L284.17,350.64 L284.58,350.71 L285.00,350.78 L285.41,350.84 L285.82,350.91 L286.24,350.97 L286.65,351.04 L287.06,351.10 L287.48,351.16 L287.89,351.23 L288.30,351.29 L288.72,351.36 L289.13,351.42 L289.55,351.48 L289.96,351.55 L290.37,351.61 L290.79,351.67 L291.20,351.74 L291.61,351.80 L292.03,351.86 L292.44,351.92 L292.86,351.98 L293.27,352.05 L293.68,352.11 L294.10,352.17 L294.51,352.23 L294.93,352.29 L295.34,352.35 L295.75,352.41 L296.17,352.47 L296.58,352.53 L297.00,352.59 L297.41,352.65 L297.83,352.71 L298.24,352.77 L298.65,352.83 L299.07,352.89 L299.48,352.95 L299.90,353.01 L300.31,353.07 L300.73,353.12 L301.14,353.18 L301.55,353.24 L301.97,353.30 L302.38,353.36 L302.80,353.41 L303.21,353.47 L303.63,353.53 L304.04,353.58 L304.45,353.64 L304.87,353.70 L305.28,353.75 L305.70,353.81 L306.11,353.87 L306.53,353.92 L306.94,353.98 L307.36,354.03 L307.77,354.09 L308.19,354.14 L308.60,354.20 L309.02,354.25 L309.43,354.31 L309.84,354.36 L310.26,354.42 L310.67,354.47 L311.09,354.53 L311.50,354.58 L311.92,354.63 L312.33,354.69 L312.75,354.74 L313.16,354.79 L313.58,354.84 L313.99,354.90 L314.41,354.95 L314.82,355.00 L315.24,355.05 L315.65,355.11 L316.07,355.16 L316.48,355.21 L316.90,355.26 L317.31,355.31 L317.73,355.36 L318.14,355.42 L318.56,355.47 L318.97,355.52 L319.39,355.57 L319.80,355.62 L320.22,355.67 L320.63,355.72 L321.05,355.77 L321.46,355.82 L321.88,355.87 L322.29,355.92 L322.71,355.97 L323.12,356.01 L323.54,356.06 L323.95,356.11 L324.37,356.16 L324.78,356.21 L325.20,356.26 L325.61,356.31 L326.03,356.35 L326.44,356.40 L326.86,356.45 L327.27,356.50 L327.69,356.54 L328.10,356.59 L328.52,356.64 L328.93,356.68 L329.35,356.73 L329.76,356.78 L330.18,356.82 L330.59,356.87 L331.01,356.92 L331.42,356.96 L331.84,357.01 L332.25,357.05 L332.67,357.10 L333.08,357.14 L333.50,357.19 L333.91,357.23 L334.32,357.28 L334.74,357.32 L335.15,357.37 L335.57,357.41 L335.98,357.46 L336.40,357.50 L336.81,357.55 L337.23,357.59 L337.64,357.63 L338.06,357.68 L338.47,357.72 L338.89,357.76 L339.30,357.81 L339.72,357.85 L340.13,357.89 L340.55,357.93 L340.96,357.98 L341.38,358.02 L341.79,358.06 L342.21,358.10 L342.62,358.15 L343.04,358.19 L343.45,358.23 L343.87,358.27 L344.28,358.31 L344.70,358.35 L345.11,358.39 L345.53,358.44 L345.94,358.48 L346.36,358.52 L346.77,358.56 L347.19,358.60 L347.60,358.64 L348.01,358.68 L348.43,358.72 L348.84,358.76 L349.26,358.80 L349.67,358.84 L350.09,358.88 L350.50,358.92 L350.92,358.95 L351.33,358.99 L351.75,359.03 L352.16,359.07 L352.57,359.11 L352.99,359.15 L353.40,359.19 L353.82,359.23 L354.23,359.26 L354.65,359.30 L355.06,359.34 L355.48,359.38 L355.89,359.41 L356.30,359.45 L356.72,359.49 L357.13,359.53 L357.55,359.56 L357.96,359.60 L358.38,359.64 L358.79,359.67 L359.20,359.71 L359.62,359.75 L360.03,359.78 L360.45,359.82 L360.86,359.86 L361.27,359.89 L361.69,359.93 L362.10,359.96 L362.52,360.00 L362.93,360.03 L363.34,360.07 L363.76,360.10 L364.17,360.14 L364.59,360.17 L365.00,360.21 L365.41,360.24 L365.83,360.28 L366.24,360.31 L366.66,360.35 L367.07,360.38 L367.48,360.42 L367.90,360.45 L368.31,360.48 L368.72,360.52 L369.14,360.55 L369.55,360.58 L369.96,360.62 L370.38,360.65 L370.79,360.68 L371.20,360.72 L371.62,360.75 L372.03,360.78 L372.44,360.82 L372.86,360.85 L373.27,360.88 L373.68,360.91 L374.10,360.95 L374.51,360.98 L374.92,361.01 L375.34,361.04 L375.75,361.07 L376.16,361.11 L376.58,361.14 L376.99,361.17 L377.40,361.20 L377.81,361.23 L378.23,361.26 L378.64,361.29 L379.05,361.32 L379.47,361.36 L379.88,361.39 L380.29,361.42 L380.70,361.45 L381.12,361.48 L381.53,361.51 L381.94,361.54 L382.35,361.57 L382.77,361.60 L383.18,361.63 L383.59,361.66 L384.00,361.69 L384.42,361.72 L384.83,361.75 L385.24,361.78 L385.65,361.81 L386.06,361.83 L386.48,361.86 L386.89,361.89 L387.30,361.92 L387.71,361.95 L388.12,361.98 L388.54,362.01 L388.95,362.04 L389.36,362.06 L389.77,362.09 L390.18,362.12 L390.59,362.15 L391.01,362.18 L391.42,362.21 L391.83,362.23 L392.24,362.26 L392.65,362.29 L393.06,362.32 L393.48,362.34 L393.89,362.37 L394.30,362.40 L394.71,362.43 L395.12,362.45 L395.53,362.48 L395.94,362.51 L396.35,362.53 L396.76,362.56 L397.18,362.59 L397.59,362.61 L398.00,362.64" stroke="#ff0000" stroke-width="1.75" stroke-dasharray="9 3.4 1.6 3.4" stroke-dashoffset="11.4"/>
</g>

<path d="M398.3,0 V366.40000000000003" stroke="#000" stroke-width="1.3" fill="none"/>
<path d="M88.12,0.50v8M129.44,0.50v8M170.76,0.50v8M212.08,0.50v8M253.40,0.50v8M294.72,0.50v8M336.04,0.50v8M377.36,0.50v8M67.46,0.50v4.3M108.78,0.50v4.3M150.10,0.50v4.3M191.42,0.50v4.3M232.74,0.50v4.3M274.06,0.50v4.3M315.38,0.50v4.3M356.70,0.50v4.3M398.02,0.50v4.3M88.12,193.50v16M129.44,193.50v16M170.76,193.50v16M212.08,193.50v16M253.40,193.50v16M294.72,193.50v16M336.04,193.50v16M377.36,193.50v16M67.46,197.20v8.6M108.78,197.20v8.6M150.10,197.20v8.6M191.42,197.20v8.6M232.74,197.20v8.6M274.06,197.20v8.6M315.38,197.20v8.6M356.70,197.20v8.6M398.02,197.20v8.6M88.12,275.95v16M129.44,275.95v16M170.76,275.95v16M212.08,275.95v16M253.40,275.95v16M294.72,275.95v16M336.04,275.95v16M377.36,275.95v16M67.46,279.65v8.6M108.78,279.65v8.6M150.10,279.65v8.6M191.42,279.65v8.6M232.74,279.65v8.6M274.06,279.65v8.6M315.38,279.65v8.6M356.70,279.65v8.6M398.02,279.65v8.6M88.12,365.85v-8M129.44,365.85v-8M170.76,365.85v-8M212.08,365.85v-8M253.40,365.85v-8M294.72,365.85v-8M336.04,365.85v-8M377.36,365.85v-8M67.46,365.85v-4.3M108.78,365.85v-4.3M150.10,365.85v-4.3M191.42,365.85v-4.3M232.74,365.85v-4.3M274.06,365.85v-4.3M315.38,365.85v-4.3M356.70,365.85v-4.3M398.02,365.85v-4.3M49.00,172.78h8M49.00,136.89h8M49.00,101.00h8M49.00,65.11h8M49.00,29.21h8M49.00,194.32h4.3M49.00,187.14h4.3M49.00,179.96h4.3M49.00,165.61h4.3M49.00,158.43h4.3M49.00,151.25h4.3M49.00,144.07h4.3M49.00,129.71h4.3M49.00,122.53h4.3M49.00,115.36h4.3M49.00,108.18h4.3M49.00,93.82h4.3M49.00,86.64h4.3M49.00,79.46h4.3M49.00,72.28h4.3M49.00,57.93h4.3M49.00,50.75h4.3M49.00,43.57h4.3M49.00,36.39h4.3M49.00,22.04h4.3M49.00,14.86h4.3M49.00,7.68h4.3M49.00,0.50h4.3M49.00,280.50h8M49.00,265.50h8M49.00,250.50h8M49.00,235.50h8M49.00,220.50h8M49.00,205.50h8M49.00,273.00h4.3M49.00,258.00h4.3M49.00,243.00h4.3M49.00,228.00h4.3M49.00,213.00h4.3M49.00,349.40h8M49.00,333.05h8M49.00,316.70h8M49.00,300.35h8M49.00,357.57h4.3M49.00,341.23h4.3M49.00,324.88h4.3M49.00,308.52h4.3M49.00,292.18h4.3" stroke="#000" stroke-width="1" fill="none"/>
<path d="M49.0,0 V365.85 M48.45,0.5 H399 M49.0,201.5 H399 M49.0,283.95 H399 M48.45,365.85 H399" stroke="#000" stroke-width="1.1" fill="none"/>

<rect x="278" y="107" width="120.15" height="72.6" fill="#fff"/><rect x="309" y="222" width="89.15" height="41" fill="#fff"/><rect x="314" y="294" width="84.15" height="49" fill="#fff"/>
<rect x="77.9" y="0" width="155.9" height="86.1" fill="#fff"/>
<path d="M140.5,-0.6 V86.1" stroke="#2a2a2a" stroke-width="0.9" stroke-dasharray="1 1.4" fill="none"/>

<g clip-path="url(#cI)" fill="none">
<path d="M77.70,8.83 L78.01,10.45 L78.33,12.05 L78.64,13.62 L78.95,15.18 L79.27,16.71 L79.58,18.22 L79.90,19.70 L80.21,21.16 L80.52,22.60 L80.84,24.02 L81.15,25.41 L81.46,26.78 L81.78,28.13 L82.09,29.45 L82.40,30.75 L82.72,32.03 L83.03,33.28 L83.35,34.51 L83.66,35.71 L83.97,36.89 L84.29,38.05 L84.60,39.19 L84.91,40.30 L85.23,41.39 L85.54,42.45 L85.85,43.49 L86.17,44.50 L86.48,45.50 L86.80,46.47 L87.11,47.42 L87.42,48.34 L87.74,49.25 L88.05,50.13 L88.36,50.99 L88.68,51.84 L88.99,52.66 L89.30,53.46 L89.62,54.24 L89.93,55.00 L90.25,55.74 L90.56,56.46 L90.87,57.17 L91.19,57.85 L91.50,58.52 L91.81,59.17 L92.13,59.80 L92.44,60.42 L92.76,61.02 L93.07,61.60 L93.38,62.16 L93.70,62.71 L94.01,63.25 L94.32,63.76 L94.64,64.27 L94.95,64.76 L95.26,65.23 L95.58,65.69 L95.89,66.13 L96.21,66.57 L96.52,66.99 L96.83,67.39 L97.15,67.79 L97.46,68.17 L97.77,68.54 L98.09,68.89 L98.40,69.24 L98.71,69.57 L99.03,69.89 L99.34,70.20 L99.66,70.50 L99.97,70.79 L100.28,71.06 L100.60,71.33 L100.91,71.58 L101.22,71.82 L101.54,72.05 L101.85,72.27 L102.16,72.48 L102.48,72.68 L102.79,72.87 L103.11,73.04 L103.42,73.21 L103.73,73.36 L104.05,73.51 L104.36,73.64 L104.67,73.77 L104.99,73.88 L105.30,73.99 L105.61,74.08 L105.93,74.16 L106.24,74.24 L106.56,74.30 L106.87,74.35 L107.18,74.40 L107.50,74.43 L107.81,74.45 L108.12,74.47 L108.44,74.48 L108.75,74.47 L109.06,74.46 L109.38,74.44 L109.69,74.40 L110.01,74.36 L110.32,74.31 L110.63,74.25 L110.95,74.19 L111.26,74.11 L111.57,74.03 L111.89,73.93 L112.20,73.83 L112.51,73.72 L112.83,73.60 L113.14,73.47 L113.46,73.34 L113.77,73.19 L114.08,73.04 L114.40,72.88 L114.71,72.71 L115.02,72.54 L115.34,72.35 L115.65,72.16 L115.96,71.96 L116.28,71.75 L116.59,71.54 L116.91,71.32 L117.22,71.09 L117.53,70.85 L117.85,70.61 L118.16,70.36 L118.47,70.10 L118.79,69.83 L119.10,69.56 L119.42,69.28 L119.73,69.00 L120.04,68.70 L120.36,68.40 L120.67,68.10 L120.98,67.79 L121.30,67.47 L121.61,67.14 L121.92,66.81 L122.24,66.47 L122.55,66.13 L122.87,65.78 L123.18,65.42 L123.49,65.06 L123.81,64.69 L124.12,64.32 L124.43,63.94 L124.75,63.56 L125.06,63.17 L125.37,62.77 L125.69,62.37 L126.00,61.96 L126.32,61.55 L126.63,61.14 L126.94,60.71 L127.26,60.29 L127.57,59.86 L127.88,59.42 L128.20,58.98 L128.51,58.53 L128.82,58.08 L129.14,57.62 L129.45,57.16 L129.77,56.69 L130.08,56.21 L130.39,55.73 L130.71,55.25 L131.02,54.76 L131.33,54.26 L131.65,53.76 L131.96,53.26 L132.27,52.74 L132.59,52.23 L132.90,51.70 L133.22,51.17 L133.53,50.64 L133.84,50.10 L134.16,49.55 L134.47,49.00 L134.78,48.44 L135.10,47.88 L135.41,47.31 L135.72,46.73 L136.04,46.15 L136.35,45.56 L136.67,44.97 L136.98,44.36 L137.29,43.74 L137.61,43.08 L137.92,42.39 L138.23,41.66 L138.55,40.90 L138.86,40.13 L139.17,39.37 L139.49,38.62 L139.80,37.95 L140.12,37.37 L140.43,36.84 L140.74,36.36 L141.06,35.95 L141.37,35.58 L141.68,35.28 L142.00,35.02 L142.31,34.81 L142.62,34.64 L142.94,34.52 L143.25,34.45 L143.57,34.41 L143.88,34.42 L144.19,34.46 L144.51,34.53 L144.82,34.64 L145.13,34.78 L145.45,34.95 L145.76,35.14 L146.08,35.36 L146.39,35.60 L146.70,35.87 L147.02,36.15 L147.33,36.45 L147.64,36.76 L147.96,37.09 L148.27,37.43 L148.58,37.77 L148.90,38.13 L149.21,38.49 L149.53,38.85 L149.84,39.22 L150.15,39.58 L150.47,39.94 L150.78,40.30 L151.09,40.66 L151.41,41.01 L151.72,41.37 L152.03,41.72 L152.35,42.07 L152.66,42.42 L152.98,42.77 L153.29,43.11 L153.60,43.45 L153.92,43.79 L154.23,44.13 L154.54,44.47 L154.86,44.80 L155.17,45.13 L155.48,45.46 L155.80,45.79 L156.11,46.12 L156.43,46.44 L156.74,46.76 L157.05,47.08 L157.37,47.40 L157.68,47.71 L157.99,48.02 L158.31,48.33 L158.62,48.64 L158.93,48.95 L159.25,49.25 L159.56,49.55 L159.88,49.85 L160.19,50.14 L160.50,50.44 L160.82,50.73 L161.13,51.02 L161.44,51.30 L161.76,51.59 L162.07,51.87 L162.38,52.15 L162.70,52.42 L163.01,52.70 L163.33,52.97 L163.64,53.24 L163.95,53.50 L164.27,53.76 L164.58,54.02 L164.89,54.28 L165.21,54.54 L165.52,54.79 L165.83,55.04 L166.15,55.29 L166.46,55.53 L166.78,55.77 L167.09,56.01 L167.40,56.25 L167.72,56.48 L168.03,56.71 L168.34,56.94 L168.66,57.16 L168.97,57.38 L169.29,57.60 L169.60,57.82 L169.91,58.03 L170.23,58.24 L170.54,58.45 L170.85,58.65 L171.17,58.85 L171.48,59.05 L171.79,59.25 L172.11,59.44 L172.42,59.63 L172.74,59.81 L173.05,59.99 L173.36,60.17 L173.68,60.35 L173.99,60.52 L174.30,60.69 L174.62,60.86 L174.93,61.02 L175.24,61.18 L175.56,61.34 L175.87,61.49 L176.19,61.64 L176.50,61.79 L176.81,61.93 L177.13,62.07 L177.44,62.21 L177.75,62.34 L178.07,62.47 L178.38,62.60 L178.69,62.72 L179.01,62.84 L179.32,62.95 L179.64,63.07 L179.95,63.18 L180.26,63.28 L180.58,63.38 L180.89,63.48 L181.20,63.58 L181.52,63.67 L181.83,63.75 L182.14,63.84 L182.46,63.92 L182.77,63.99 L183.09,64.07 L183.40,64.14 L183.71,64.20 L184.03,64.26 L184.34,64.32 L184.65,64.37 L184.97,64.42 L185.28,64.47 L185.59,64.51 L185.91,64.55 L186.22,64.59 L186.54,64.62 L186.85,64.64 L187.16,64.67 L187.48,64.68 L187.79,64.70 L188.10,64.71 L188.42,64.72 L188.73,64.72 L189.04,64.72 L189.36,64.71 L189.67,64.70 L189.99,64.69 L190.30,64.67 L190.61,64.65 L190.93,64.62 L191.24,64.59 L191.55,64.56 L191.87,64.52 L192.18,64.48 L192.49,64.43 L192.81,64.38 L193.12,64.33 L193.44,64.27 L193.75,64.20 L194.06,64.13 L194.38,64.06 L194.69,63.98 L195.00,63.90 L195.32,63.82 L195.63,63.73 L195.95,63.63 L196.26,63.53 L196.57,63.43 L196.89,63.32 L197.20,63.21 L197.51,63.09 L197.83,62.97 L198.14,62.84 L198.45,62.71 L198.77,62.57 L199.08,62.43 L199.40,62.29 L199.71,62.14 L200.02,61.98 L200.34,61.82 L200.65,61.66 L200.96,61.49 L201.28,61.32 L201.59,61.14 L201.90,60.96 L202.22,60.77 L202.53,60.58 L202.85,60.38 L203.16,60.18 L203.47,59.97 L203.79,59.76 L204.10,59.54 L204.41,59.32 L204.73,59.10 L205.04,58.87 L205.35,58.63 L205.67,58.39 L205.98,58.14 L206.30,57.89 L206.61,57.64 L206.92,57.38 L207.24,57.11 L207.55,56.84 L207.86,56.56 L208.18,56.28 L208.49,56.00 L208.80,55.71 L209.12,55.41 L209.43,55.11 L209.75,54.80 L210.06,54.49 L210.37,54.18 L210.69,53.86 L211.00,53.53 L211.31,53.20 L211.63,52.86 L211.94,52.52 L212.25,52.18 L212.57,51.82 L212.88,51.47 L213.20,51.11 L213.51,50.74 L213.82,50.37 L214.14,49.99 L214.45,49.61 L214.76,49.22 L215.08,48.82 L215.39,48.43 L215.70,48.02 L216.02,47.61 L216.33,47.20 L216.65,46.78 L216.96,46.35 L217.27,45.92 L217.59,45.49 L217.90,45.05 L218.21,44.60 L218.53,44.15 L218.84,43.69 L219.15,43.23 L219.47,42.76 L219.78,42.29 L220.10,41.81 L220.41,41.33 L220.72,40.84 L221.04,40.34 L221.35,39.84 L221.66,39.33 L221.98,38.82 L222.29,38.31 L222.61,37.78 L222.92,37.26 L223.23,36.72 L223.55,36.18 L223.86,35.64 L224.17,35.09 L224.49,34.53 L224.80,33.97 L225.11,33.40 L225.43,32.83 L225.74,32.25 L226.06,31.67 L226.37,31.08 L226.68,30.49 L227.00,29.88 L227.31,29.28 L227.62,28.67 L227.94,28.05 L228.25,27.42 L228.56,26.80 L228.88,26.16 L229.19,25.52 L229.51,24.87 L229.82,24.22 L230.13,23.56 L230.45,22.90 L230.76,22.23 L231.07,21.55 L231.39,20.87 L231.70,20.19 L232.01,19.49 L232.33,18.79 L232.64,18.09 L232.96,17.38 L233.27,16.66 L233.58,15.94 L233.90,15.21 L234.21,14.48" stroke="#000" stroke-width="1.5"/>
<path d="M77.70,8.83 L77.99,10.32 L78.28,11.80 L78.57,13.26 L78.86,14.70 L79.15,16.12 L79.44,17.52 L79.73,18.91 L80.02,20.27 L80.31,21.61 L80.60,22.93 L80.89,24.24 L81.17,25.52 L81.46,26.78 L81.75,28.03 L82.04,29.25 L82.33,30.45 L82.62,31.64 L82.91,32.80 L83.20,33.95 L83.49,35.07 L83.78,36.17 L84.07,37.26 L84.36,38.32 L84.65,39.36 L84.94,40.39 L85.23,41.39 L85.52,42.37 L85.81,43.33 L86.10,44.28 L86.39,45.20 L86.68,46.10 L86.97,46.99 L87.26,47.85 L87.55,48.70 L87.83,49.53 L88.12,50.34 L88.41,51.13 L88.70,51.90 L88.99,52.66 L89.28,53.40 L89.57,54.12 L89.86,54.83 L90.15,55.52 L90.44,56.19 L90.73,56.85 L91.02,57.49 L91.31,58.12 L91.60,58.73 L91.89,59.32 L92.18,59.90 L92.47,60.47 L92.76,61.02 L93.05,61.56 L93.34,62.08 L93.63,62.59 L93.92,63.09 L94.21,63.57 L94.49,64.04 L94.78,64.50 L95.07,64.94 L95.36,65.38 L95.65,65.80 L95.94,66.21 L96.23,66.60 L96.52,66.99 L96.81,67.36 L97.10,67.73 L97.39,68.08 L97.68,68.43 L97.97,68.76 L98.26,69.08 L98.55,69.40 L98.84,69.70 L99.13,69.99 L99.42,70.28 L99.71,70.55 L100.00,70.81 L100.29,71.07 L100.58,71.31 L100.87,71.55 L101.15,71.77 L101.44,71.99 L101.73,72.19 L102.02,72.39 L102.31,72.58 L102.60,72.76 L102.89,72.92 L103.18,73.09 L103.47,73.24 L103.76,73.38 L104.05,73.51 L104.34,73.64 L104.63,73.75 L104.92,73.86 L105.21,73.96 L105.50,74.05 L105.79,74.13 L106.08,74.20 L106.37,74.26 L106.66,74.32 L106.95,74.36 L107.24,74.40 L107.53,74.43 L107.81,74.45 L108.10,74.47 L108.39,74.47 L108.68,74.47 L108.97,74.46 L109.26,74.44 L109.55,74.42 L109.84,74.39 L110.13,74.34 L110.42,74.30 L110.71,74.24 L111.00,74.17 L111.29,74.10 L111.58,74.02 L111.87,73.94 L112.16,73.84 L112.45,73.74 L112.74,73.64 L113.03,73.52 L113.32,73.40 L113.61,73.27 L113.90,73.13 L114.19,72.99 L114.47,72.84 L114.76,72.68 L115.05,72.52 L115.34,72.35 L115.63,72.17 L115.92,71.99 L116.21,71.80 L116.50,71.60 L116.79,71.40 L117.08,71.19 L117.37,70.97 L117.66,70.75 L117.95,70.53 L118.24,70.29 L118.53,70.05 L118.82,69.81 L119.11,69.55 L119.40,69.30 L119.69,69.03 L119.98,68.76 L120.27,68.49 L120.56,68.21 L120.85,67.92 L121.13,67.63 L121.42,67.34 L121.71,67.03 L122.00,66.73 L122.29,66.41 L122.58,66.09 L122.87,65.77 L123.16,65.44 L123.45,65.11 L123.74,64.77 L124.03,64.43 L124.32,64.08 L124.61,63.73 L124.90,63.37 L125.19,63.01 L125.48,62.64 L125.77,62.27 L126.06,61.89 L126.35,61.51 L126.64,61.13 L126.93,60.74 L127.22,60.34 L127.51,59.94 L127.79,59.54 L128.08,59.14 L128.37,58.72 L128.66,58.31 L128.95,57.89 L129.24,57.46 L129.53,57.04 L129.82,56.60 L130.11,56.16 L130.40,55.72 L130.69,55.27 L130.98,54.82 L131.27,54.37 L131.56,53.90 L131.85,53.44 L132.14,52.97 L132.43,52.49 L132.72,52.01 L133.01,51.53 L133.30,51.04 L133.59,50.54 L133.88,50.04 L134.17,49.54 L134.45,49.03 L134.74,48.51 L135.03,47.99 L135.32,47.47 L135.61,46.94 L135.90,46.40 L136.19,45.86 L136.48,45.31 L136.77,44.76 L137.06,44.21 L137.35,43.65 L137.64,43.08 L137.93,42.51 L138.22,41.93 L138.51,41.35 L138.80,40.76 L139.09,40.17 L139.38,39.57 L139.67,38.96 L139.96,38.35 L140.25,37.74 L140.54,37.12 L140.83,36.49 L141.11,35.86 L141.40,35.22 L141.69,34.58 L141.98,33.93 L142.27,33.28 L142.56,32.61 L142.85,31.95 L143.14,31.27 L143.43,30.59 L143.72,29.90 L144.01,29.21 L144.30,28.51 L144.59,27.79 L144.88,27.08 L145.17,26.35 L145.46,25.61 L145.75,24.86 L146.04,24.11 L146.33,23.34 L146.62,22.57 L146.91,21.78 L147.20,20.99 L147.49,20.18 L147.77,19.37 L148.06,18.54 L148.35,17.71 L148.64,16.86 L148.93,16.01 L149.22,15.15 L149.51,14.28 L149.80,13.40 L150.09,12.51 L150.38,11.62 L150.67,10.72 L150.96,9.81 L151.25,8.89 L151.54,7.97 L151.83,7.04 L152.12,6.11 L152.41,5.17 L152.70,4.22 L152.99,3.27 L153.28,2.31 L153.57,1.35 L153.86,0.38 L154.15,-0.59 L154.43,-1.57 L154.72,-2.55 L155.01,-3.53 L155.30,-4.52 L155.59,-5.51 L155.88,-6.51 L156.17,-7.51 L156.46,-8.52 L156.75,-9.53 L157.04,-10.54 L157.33,-11.56 L157.62,-12.59 L157.91,-13.61 L158.20,-14.65 L158.49,-15.68 L158.78,-16.72 L159.07,-17.77 L159.36,-18.82 L159.65,-19.87 L159.94,-20.93 L160.23,-21.99 L160.52,-23.06 L160.81,-24.13 L161.09,-25.21 L161.38,-26.29 L161.67,-27.37 L161.96,-28.46 L162.25,-29.55 L162.54,-30.65 L162.83,-31.75 L163.12,-32.86 L163.41,-33.97 L163.70,-35.09 L163.99,-36.21 L164.28,-37.33" stroke="#0000ff" stroke-width="1.7" stroke-dasharray="9 3.3"/>
<path d="M77.70,8.83 L77.99,10.32 L78.28,11.80 L78.57,13.26 L78.86,14.70 L79.15,16.12 L79.44,17.52 L79.73,18.91 L80.02,20.27 L80.31,21.61 L80.60,22.93 L80.89,24.24 L81.17,25.52 L81.46,26.78 L81.75,28.03 L82.04,29.25 L82.33,30.45 L82.62,31.64 L82.91,32.80 L83.20,33.95 L83.49,35.07 L83.78,36.17 L84.07,37.26 L84.36,38.32 L84.65,39.36 L84.94,40.39 L85.23,41.39 L85.52,42.37 L85.81,43.33 L86.10,44.28 L86.39,45.20 L86.68,46.10 L86.97,46.99 L87.26,47.85 L87.55,48.70 L87.83,49.53 L88.12,50.34 L88.41,51.13 L88.70,51.90 L88.99,52.66 L89.28,53.40 L89.57,54.12 L89.86,54.83 L90.15,55.52 L90.44,56.19 L90.73,56.85 L91.02,57.49 L91.31,58.12 L91.60,58.73 L91.89,59.32 L92.18,59.90 L92.47,60.47 L92.76,61.02 L93.05,61.56 L93.34,62.08 L93.63,62.59 L93.92,63.09 L94.21,63.57 L94.49,64.04 L94.78,64.50 L95.07,64.94 L95.36,65.38 L95.65,65.80 L95.94,66.21 L96.23,66.60 L96.52,66.99 L96.81,67.36 L97.10,67.73 L97.39,68.08 L97.68,68.43 L97.97,68.76 L98.26,69.08 L98.55,69.40 L98.84,69.70 L99.13,69.99 L99.42,70.28 L99.71,70.55 L100.00,70.81 L100.29,71.07 L100.58,71.31 L100.87,71.55 L101.15,71.77 L101.44,71.99 L101.73,72.19 L102.02,72.39 L102.31,72.58 L102.60,72.76 L102.89,72.92 L103.18,73.09 L103.47,73.24 L103.76,73.38 L104.05,73.51 L104.34,73.64 L104.63,73.75 L104.92,73.86 L105.21,73.96 L105.50,74.05 L105.79,74.13 L106.08,74.20 L106.37,74.26 L106.66,74.32 L106.95,74.36 L107.24,74.40 L107.53,74.43 L107.81,74.45 L108.10,74.47 L108.39,74.47 L108.68,74.47 L108.97,74.46 L109.26,74.44 L109.55,74.42 L109.84,74.39 L110.13,74.34 L110.42,74.30 L110.71,74.24 L111.00,74.17 L111.29,74.10 L111.58,74.02 L111.87,73.94 L112.16,73.84 L112.45,73.74 L112.74,73.64 L113.03,73.52 L113.32,73.40 L113.61,73.27 L113.90,73.13 L114.19,72.99 L114.47,72.84 L114.76,72.68 L115.05,72.52 L115.34,72.35 L115.63,72.17 L115.92,71.99 L116.21,71.80 L116.50,71.60 L116.79,71.40 L117.08,71.19 L117.37,70.97 L117.66,70.75 L117.95,70.53 L118.24,70.29 L118.53,70.05 L118.82,69.81 L119.11,69.55 L119.40,69.30 L119.69,69.03 L119.98,68.76 L120.27,68.49 L120.56,68.21 L120.85,67.92 L121.13,67.63 L121.42,67.34 L121.71,67.03 L122.00,66.73 L122.29,66.41 L122.58,66.09 L122.87,65.77 L123.16,65.44 L123.45,65.11 L123.74,64.77 L124.03,64.43 L124.32,64.08 L124.61,63.73 L124.90,63.37 L125.19,63.01 L125.48,62.64 L125.77,62.27 L126.06,61.89 L126.35,61.51 L126.64,61.13 L126.93,60.74 L127.22,60.34 L127.51,59.94 L127.79,59.54 L128.08,59.14 L128.37,58.72 L128.66,58.31 L128.95,57.89 L129.24,57.46 L129.53,57.04 L129.82,56.60 L130.11,56.16 L130.40,55.72 L130.69,55.27 L130.98,54.82 L131.27,54.37 L131.56,53.90 L131.85,53.44 L132.14,52.97 L132.43,52.49 L132.72,52.01 L133.01,51.53 L133.30,51.04 L133.59,50.54 L133.88,50.04 L134.17,49.54 L134.45,49.03 L134.74,48.51 L135.03,47.99 L135.32,47.47 L135.61,46.94 L135.90,46.40 L136.19,45.86 L136.48,45.31 L136.77,44.76 L137.06,44.21 L137.35,43.65 L137.64,43.08 L137.93,42.51 L138.22,41.93 L138.51,41.35 L138.80,40.76 L139.09,40.17 L139.38,39.57 L139.67,38.96 L139.96,38.35 L140.25,37.74 L140.54,37.12 L140.83,36.49 L141.11,35.86 L141.40,35.22 L141.69,34.58 L141.98,33.93 L142.27,33.28 L142.56,32.61 L142.85,31.95 L143.14,31.27 L143.43,30.59 L143.72,29.90 L144.01,29.21 L144.30,28.51 L144.59,27.79 L144.88,27.08 L145.17,26.35 L145.46,25.61 L145.75,24.86 L146.04,24.11 L146.33,23.34 L146.62,22.57 L146.91,21.78 L147.20,20.99 L147.49,20.18 L147.77,19.37 L148.06,18.54 L148.35,17.71 L148.64,16.86 L148.93,16.01 L149.22,15.15 L149.51,14.28 L149.80,13.40 L150.09,12.51 L150.38,11.62 L150.67,10.72 L150.96,9.81 L151.25,8.89 L151.54,7.97 L151.83,7.04 L152.12,6.11 L152.41,5.17 L152.70,4.22 L152.99,3.27 L153.28,2.31 L153.57,1.35 L153.86,0.38 L154.15,-0.59 L154.43,-1.57 L154.72,-2.55 L155.01,-3.53 L155.30,-4.52 L155.59,-5.51 L155.88,-6.51 L156.17,-7.51 L156.46,-8.52 L156.75,-9.53 L157.04,-10.54 L157.33,-11.56 L157.62,-12.59 L157.91,-13.61 L158.20,-14.65 L158.49,-15.68 L158.78,-16.72 L159.07,-17.77 L159.36,-18.82 L159.65,-19.87 L159.94,-20.93 L160.23,-21.99 L160.52,-23.06 L160.81,-24.13 L161.09,-25.21 L161.38,-26.29 L161.67,-27.37 L161.96,-28.46 L162.25,-29.55 L162.54,-30.65 L162.83,-31.75 L163.12,-32.86 L163.41,-33.97 L163.70,-35.09 L163.99,-36.21 L164.28,-37.33" stroke="#ff0000" stroke-width="2.1" stroke-dasharray="2.1 5.25" stroke-dashoffset="-6"/>
<path d="M77.9,60.5 L126,60.5" stroke="#ff00ff" stroke-width="1.7" stroke-dasharray="8.6 3.3"/>
<path d="M131.6,53.9 L211.3,53.9" stroke="#ff00ff" stroke-width="1.7" stroke-dasharray="8.6 3.3"/>
</g>

<path d="M111.00,0.50v8M144.30,0.50v8M177.60,0.50v8M210.90,0.50v8M94.35,0.50v4.3M127.65,0.50v4.3M160.95,0.50v4.3M194.25,0.50v4.3M227.55,0.50v4.3M111.00,86.10v-8M144.30,86.10v-8M177.60,86.10v-8M210.90,86.10v-8M94.35,86.10v-4.3M127.65,86.10v-4.3M160.95,86.10v-4.3M194.25,86.10v-4.3M227.55,86.10v-4.3M77.90,71.30h8M77.90,40.55h8M77.90,9.80h8M77.90,55.92h4.3M77.90,25.18h4.3M233.80,71.30h-8M233.80,40.55h-8M233.80,9.80h-8M233.80,55.92h-4.3M233.80,25.18h-4.3" stroke="#000" stroke-width="1" fill="none"/>
<path d="M77.9,0 V86.1 M233.8,0 V86.1 M77.30000000000001,86.1 H234.4 M77.9,0.5 H233.8" stroke="#000" stroke-width="1.25" fill="none"/>

<path d="M282.8,117.4 H307.3" stroke="#000" stroke-width="1.5" fill="none"/><text x="316.0" y="120.9" font-size="11.55">cluster exp. (CE)</text><path d="M282.5,132.0 H307.3" stroke="#0000ff" stroke-width="1.7" stroke-dasharray="9 3.3" fill="none"/><text x="316.0" y="135.2" font-size="11.55">2-phase EoS</text><path d="M282.8,146.4 H307.3" stroke="#bc8f8f" stroke-width="1.4" stroke-dasharray="1 3.7 6.3 3.8" fill="none"/><text x="316.0" y="149.4" font-size="11.55">quark EoS</text><path d="M282.8,159.4 H307.3" stroke="#ff0000" stroke-width="2.1" stroke-dasharray="2.1 5.25" fill="none"/><text x="316.0" y="163.5" font-size="11.55">nucleon EoS</text><path d="M282.8,171.7 H307.3" stroke="#ff00ff" stroke-width="1.7" stroke-dasharray="9 3.2" fill="none"/><text x="316.0" y="175.6" font-size="11.55">MC in CE</text><path d="M314,228.8 H338.8" stroke="#000" stroke-width="1.5" fill="none"/><text x="347.0" y="232.5" font-size="11.55">nucleons</text><path d="M314,241.9 H338.8" stroke="#ff0000" stroke-width="1.8" stroke-dasharray="1.9 3.1 9.2 3.1" fill="none"/><text x="347.0" y="245.6" font-size="11.55">quarks</text><path d="M314,255.2 H338.8" stroke="#ff00ff" stroke-width="1.7" stroke-dasharray="9 3.2" fill="none"/><text x="347.0" y="258.9" font-size="11.55">MC in CE</text><path d="M318.6,301.1 H342.7" stroke="#000" stroke-width="1.5" stroke-dasharray="5.5 3" fill="none"/><text x="351.4" y="304.1" font-size="11.55">M<tspan font-size="8" dy="2.5">n</tspan><tspan dy="-2.5">, DD2</tspan></text><path d="M318.6,314.8 H342.7" stroke="#000" stroke-width="1.5" fill="none"/><text x="351.4" y="317.8" font-size="11.55">M<tspan font-size="8" dy="2.5">n</tspan><tspan dy="-2.5">, CE</tspan></text><path d="M318.6,330.9 H342.7" stroke="#ff0000" stroke-width="1.8" stroke-dasharray="1.9 3.1 9.2 3.1" fill="none"/><text x="351.4" y="333.9" font-size="11.55">M<tspan font-size="7.5" dy="-4.5">thr</tspan><tspan font-size="7.5" dx="-8" dy="7.2">3q</tspan></text>
<text x="45.3" y="177.534" font-size="14.2" text-anchor="end" >1000</text><text x="45.3" y="141.6415" font-size="14.2" text-anchor="end" >1250</text><text x="45.3" y="105.749" font-size="14.2" text-anchor="end" >1500</text><text x="45.3" y="69.8565" font-size="14.2" text-anchor="end" >1750</text><text x="45.3" y="33.964" font-size="14.2" text-anchor="end" >2000</text><text x="44.8" y="285.25" font-size="14.2" text-anchor="end" >0</text><text x="44.8" y="270.25" font-size="14.2" text-anchor="end" >0.2</text><text x="44.8" y="255.25" font-size="14.2" text-anchor="end" >0.4</text><text x="44.8" y="240.25" font-size="14.2" text-anchor="end" >0.6</text><text x="44.8" y="225.25" font-size="14.2" text-anchor="end" >0.8</text><text x="44.8" y="210.25" font-size="14.2" text-anchor="end" >1</text><text x="44.8" y="370.5" font-size="14.2" text-anchor="end" >0</text><text x="44.8" y="354.15" font-size="14.2" text-anchor="end" >200</text><text x="44.8" y="337.8" font-size="14.2" text-anchor="end" >400</text><text x="44.8" y="321.45" font-size="14.2" text-anchor="end" >600</text><text x="44.8" y="305.1" font-size="14.2" text-anchor="end" >800</text><text x="88.42" y="380.2" font-size="14" text-anchor="middle" >0.2</text><text x="129.74" y="380.2" font-size="14" text-anchor="middle" >0.4</text><text x="171.06" y="380.2" font-size="14" text-anchor="middle" >0.6</text><text x="212.38" y="380.2" font-size="14" text-anchor="middle" >0.8</text><text x="253.7" y="380.2" font-size="14" text-anchor="middle" >1</text><text x="295.02" y="380.2" font-size="14" text-anchor="middle" >1.2</text><text x="336.34" y="380.2" font-size="14" text-anchor="middle" >1.4</text><text x="377.66" y="380.2" font-size="14" text-anchor="middle" >1.6</text><text x="223.7" y="396.2" font-size="14" text-anchor="middle" >n [fm<tspan font-size="10" dy="-5.5">-3</tspan><tspan dy="5.5">]</tspan></text><text transform="translate(11.2,100.8) rotate(-90)" font-size="14.2" text-anchor="middle">μ [MeV]</text><text transform="translate(9.7,242.5) rotate(-90)" font-size="14" text-anchor="middle">x<tspan font-size="10" dy="3.5">i</tspan></text><text transform="translate(11.2,325.3) rotate(-90)" font-size="14" text-anchor="middle">M<tspan font-size="10" dy="3.5">i</tspan></text><text x="77.7" y="96.8" font-size="9.0" text-anchor="middle" >0</text><text x="111.0" y="96.8" font-size="9.0" text-anchor="middle" >0.1</text><text x="144.3" y="96.8" font-size="9.0" text-anchor="middle" >0.2</text><text x="177.6" y="96.8" font-size="9.0" text-anchor="middle" >0.3</text><text x="210.90000000000003" y="96.8" font-size="9.0" text-anchor="middle" >0.4</text><text x="74.4" y="74.1" font-size="9.0" text-anchor="end" >920</text><text x="74.4" y="43.349999999999994" font-size="9.0" text-anchor="end" >930</text><text x="74.4" y="12.600000000000001" font-size="9.0" text-anchor="end" >940</text>
</svg>
</body></html>
